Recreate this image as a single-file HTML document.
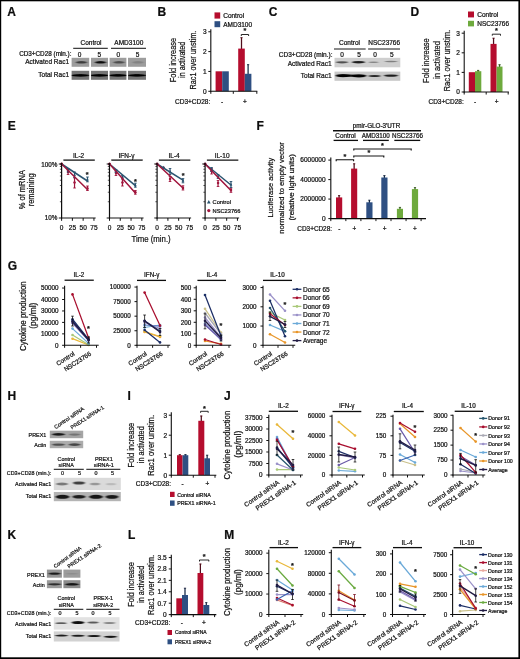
<!DOCTYPE html>
<html lang="en"><head><meta charset="utf-8"><title>Figure</title>
<style>html,body{margin:0;padding:0;background:#fff}svg{display:block}text{font-family:"Liberation Sans",sans-serif;fill:#111;stroke:#111;stroke-width:0.22px;stroke-linejoin:round}</style>
</head><body>
<svg width="520" height="659" viewBox="0 0 520 659">
<defs><filter id="b1" x="-30%" y="-80%" width="160%" height="260%"><feGaussianBlur stdDeviation="0.9 0.55"/></filter><filter id="b2" x="-30%" y="-80%" width="160%" height="260%"><feGaussianBlur stdDeviation="1.3 0.8"/></filter><filter id="soft" x="-2%" y="-2%" width="104%" height="104%"><feGaussianBlur stdDeviation="0.35"/></filter></defs>
<rect x="0.00" y="0.00" width="520.00" height="659.00" fill="#fff"/>
<g filter="url(#soft)">
<text transform="translate(7.30 11.30)" font-size="12" font-weight="bold" dy="4.30">A</text>
<text transform="translate(157.50 11.30)" font-size="12" font-weight="bold" dy="4.30">B</text>
<text transform="translate(268.80 11.30)" font-size="12" font-weight="bold" dy="4.30">C</text>
<text transform="translate(410.50 11.60)" font-size="12" font-weight="bold" dy="4.30">D</text>
<text transform="translate(7.80 126.10)" font-size="12" font-weight="bold" dy="4.30">E</text>
<text transform="translate(256.50 126.10)" font-size="12" font-weight="bold" dy="4.30">F</text>
<text transform="translate(7.80 266.10)" font-size="12" font-weight="bold" dy="4.30">G</text>
<text transform="translate(7.50 395.90)" font-size="12" font-weight="bold" dy="4.30">H</text>
<text transform="translate(127.50 395.90)" font-size="12" font-weight="bold" dy="4.30">I</text>
<text transform="translate(224.00 395.90)" font-size="12" font-weight="bold" dy="4.30">J</text>
<text transform="translate(7.50 534.60)" font-size="12" font-weight="bold" dy="4.30">K</text>
<text transform="translate(128.00 534.90)" font-size="12" font-weight="bold" dy="4.30">L</text>
<text transform="translate(224.30 534.60)" font-size="12" font-weight="bold" dy="4.30">M</text>
<text transform="translate(91.00 42.30)" font-size="6.5" text-anchor="middle" dy="2.33">Control</text>
<text transform="translate(128.80 42.30)" font-size="6.5" text-anchor="middle" dy="2.33">AMD3100</text>
<line x1="73.20" y1="48.30" x2="107.80" y2="48.30" stroke="#111" stroke-width="1"/>
<line x1="111.00" y1="48.30" x2="146.00" y2="48.30" stroke="#111" stroke-width="1"/>
<text transform="translate(71.50 54.20)" font-size="6.35" text-anchor="end" dy="2.27">CD3+CD28 (min.):</text>
<text transform="translate(79.60 54.20)" font-size="6.5" text-anchor="middle" dy="2.33">0</text>
<text transform="translate(99.30 54.20)" font-size="6.5" text-anchor="middle" dy="2.33">5</text>
<text transform="translate(118.20 54.20)" font-size="6.5" text-anchor="middle" dy="2.33">0</text>
<text transform="translate(137.60 54.20)" font-size="6.5" text-anchor="middle" dy="2.33">5</text>
<text transform="translate(69.00 61.70)" font-size="6.5" text-anchor="end" dy="2.33">Activated Rac1</text>
<text transform="translate(69.00 74.90)" font-size="6.5" text-anchor="end" dy="2.33">Total Rac1</text>
<clipPath id="cA0"><rect x="71.60" y="57.80" width="17.60" height="9.00"/></clipPath>
<rect x="71.60" y="57.80" width="17.60" height="9.00" fill="#9d9d9d"/>
<g clip-path="url(#cA0)">
<ellipse cx="81.40" cy="62.30" rx="5.75" ry="1.30" fill="#000" opacity="0.62" filter="url(#b1)"/>
</g>
<clipPath id="cAt0"><rect x="71.60" y="70.80" width="17.60" height="9.00"/></clipPath>
<rect x="71.60" y="70.80" width="17.60" height="9.00" fill="#757575"/>
<g clip-path="url(#cAt0)">
<ellipse cx="80.40" cy="75.40" rx="9.50" ry="1.30" fill="#000" opacity="0.95" filter="url(#b1)"/>
<ellipse cx="80.40" cy="75.40" rx="7.00" ry="0.70" fill="#000" opacity="0.8" filter="url(#b1)"/>
</g>
<clipPath id="cA1"><rect x="91.00" y="57.80" width="17.00" height="9.00"/></clipPath>
<rect x="91.00" y="57.80" width="17.00" height="9.00" fill="#9d9d9d"/>
<g clip-path="url(#cA1)">
<ellipse cx="100.50" cy="62.30" rx="5.75" ry="1.30" fill="#000" opacity="0.9" filter="url(#b1)"/>
</g>
<clipPath id="cAt1"><rect x="91.00" y="70.80" width="17.00" height="9.00"/></clipPath>
<rect x="91.00" y="70.80" width="17.00" height="9.00" fill="#757575"/>
<g clip-path="url(#cAt1)">
<ellipse cx="99.50" cy="75.40" rx="9.50" ry="1.30" fill="#000" opacity="0.95" filter="url(#b1)"/>
<ellipse cx="99.50" cy="75.40" rx="7.00" ry="0.70" fill="#000" opacity="0.8" filter="url(#b1)"/>
</g>
<clipPath id="cA2"><rect x="109.60" y="57.80" width="16.80" height="9.00"/></clipPath>
<rect x="109.60" y="57.80" width="16.80" height="9.00" fill="#9d9d9d"/>
<g clip-path="url(#cA2)">
<ellipse cx="119.00" cy="62.30" rx="5.75" ry="1.30" fill="#000" opacity="0.5" filter="url(#b1)"/>
</g>
<clipPath id="cAt2"><rect x="109.60" y="70.80" width="16.80" height="9.00"/></clipPath>
<rect x="109.60" y="70.80" width="16.80" height="9.00" fill="#757575"/>
<g clip-path="url(#cAt2)">
<ellipse cx="118.00" cy="75.40" rx="9.50" ry="1.30" fill="#000" opacity="0.95" filter="url(#b1)"/>
<ellipse cx="118.00" cy="75.40" rx="7.00" ry="0.70" fill="#000" opacity="0.8" filter="url(#b1)"/>
</g>
<clipPath id="cA3"><rect x="128.00" y="57.80" width="18.00" height="9.00"/></clipPath>
<rect x="128.00" y="57.80" width="18.00" height="9.00" fill="#9d9d9d"/>
<g clip-path="url(#cA3)">
<ellipse cx="138.00" cy="62.30" rx="5.75" ry="1.30" fill="#000" opacity="0.16" filter="url(#b1)"/>
</g>
<clipPath id="cAt3"><rect x="128.00" y="70.80" width="18.00" height="9.00"/></clipPath>
<rect x="128.00" y="70.80" width="18.00" height="9.00" fill="#757575"/>
<g clip-path="url(#cAt3)">
<ellipse cx="137.00" cy="75.40" rx="9.50" ry="1.30" fill="#000" opacity="0.95" filter="url(#b1)"/>
<ellipse cx="137.00" cy="75.40" rx="7.00" ry="0.70" fill="#000" opacity="0.8" filter="url(#b1)"/>
</g>
<rect x="215.60" y="71.30" width="6.60" height="20.00" fill="#b5112f"/>
<rect x="222.20" y="71.30" width="6.60" height="20.00" fill="#2d4f82"/>
<line x1="241.50" y1="37.50" x2="241.50" y2="49.60" stroke="#4f0c1a" stroke-width="1.25"/>
<line x1="240.40" y1="37.70" x2="242.60" y2="37.70" stroke="#4f0c1a" stroke-width="0.9"/>
<rect x="238.20" y="48.60" width="6.60" height="42.70" fill="#b5112f"/>
<line x1="248.10" y1="64.50" x2="248.10" y2="74.80" stroke="#172842" stroke-width="1.25"/>
<line x1="247.00" y1="64.70" x2="249.20" y2="64.70" stroke="#172842" stroke-width="0.9"/>
<rect x="244.80" y="73.80" width="6.60" height="17.50" fill="#2d4f82"/>
<line x1="210.80" y1="29.20" x2="210.80" y2="91.85" stroke="#111" stroke-width="1.1"/>
<line x1="208.30" y1="91.30" x2="210.80" y2="91.30" stroke="#111" stroke-width="0.99"/>
<text transform="translate(206.50 91.30)" font-size="6.5" text-anchor="end" dy="2.33">0</text>
<line x1="208.30" y1="71.45" x2="210.80" y2="71.45" stroke="#111" stroke-width="0.99"/>
<text transform="translate(206.50 71.45)" font-size="6.5" text-anchor="end" dy="2.33">1</text>
<line x1="208.30" y1="51.60" x2="210.80" y2="51.60" stroke="#111" stroke-width="0.99"/>
<text transform="translate(206.50 51.60)" font-size="6.5" text-anchor="end" dy="2.33">2</text>
<line x1="208.30" y1="31.75" x2="210.80" y2="31.75" stroke="#111" stroke-width="0.99"/>
<text transform="translate(206.50 31.75)" font-size="6.5" text-anchor="end" dy="2.33">3</text>
<line x1="210.25" y1="91.30" x2="257.30" y2="91.30" stroke="#111" stroke-width="1.1"/>
<line x1="210.80" y1="91.30" x2="210.80" y2="93.80" stroke="#111" stroke-width="0.99"/>
<line x1="233.30" y1="91.30" x2="233.30" y2="93.80" stroke="#111" stroke-width="0.99"/>
<line x1="256.80" y1="91.30" x2="256.80" y2="93.80" stroke="#111" stroke-width="0.99"/>
<text transform="translate(175.52 82.20) rotate(-90) scale(0.822 1)" font-size="9.00">Fold increase</text>
<text transform="translate(185.47 77.90) rotate(-90) scale(0.797 1)" font-size="9.00">in activated</text>
<text transform="translate(195.57 89.60) rotate(-90) scale(0.815 1)" font-size="9.00">Rac1 over unstim.</text>
<path d="M241.30 36.00 V34.50 H248.60 V36.00" fill="none" stroke="#111" stroke-width="0.9"/>
<text transform="translate(244.95 30.74)" font-size="7.2" text-anchor="middle" font-weight="bold" dy="2.58">*</text>
<text transform="translate(210.30 101.20)" font-size="6.5" text-anchor="end" dy="2.33">CD3+CD28:</text>
<text transform="translate(222.20 101.20)" font-size="6.5" text-anchor="middle" dy="2.33">-</text>
<text transform="translate(244.80 101.20)" font-size="6.5" text-anchor="middle" dy="2.33">+</text>
<rect x="214.50" y="12.40" width="5.70" height="6.20" fill="#b5112f"/>
<text transform="translate(223.20 15.60)" font-size="6.5" dy="2.33">Control</text>
<rect x="214.50" y="21.20" width="5.70" height="6.00" fill="#2d4f82"/>
<text transform="translate(223.20 24.30)" font-size="6.5" dy="2.33">AMD3100</text>
<text transform="translate(349.50 43.00)" font-size="6.5" text-anchor="middle" dy="2.33">Control</text>
<text transform="translate(384.20 43.00)" font-size="6.5" text-anchor="middle" dy="2.33">NSC23766</text>
<line x1="334.00" y1="49.00" x2="365.60" y2="49.00" stroke="#111" stroke-width="1"/>
<line x1="368.20" y1="49.00" x2="400.00" y2="49.00" stroke="#111" stroke-width="1"/>
<text transform="translate(332.50 55.00)" font-size="6.5" text-anchor="end" dy="2.33">CD3+CD28 (min.):</text>
<text transform="translate(342.00 55.00)" font-size="6.5" text-anchor="middle" dy="2.33">0</text>
<text transform="translate(359.00 55.00)" font-size="6.5" text-anchor="middle" dy="2.33">5</text>
<text transform="translate(375.00 55.00)" font-size="6.5" text-anchor="middle" dy="2.33">0</text>
<text transform="translate(391.80 55.00)" font-size="6.5" text-anchor="middle" dy="2.33">5</text>
<text transform="translate(331.50 63.50)" font-size="6.5" text-anchor="end" dy="2.33">Activated Rac1</text>
<text transform="translate(331.50 76.00)" font-size="6.5" text-anchor="end" dy="2.33">Total Rac1</text>
<clipPath id="cC1"><rect x="334.50" y="57.80" width="65.80" height="9.50"/></clipPath>
<rect x="334.50" y="57.80" width="65.80" height="9.50" fill="#cfcfcf"/>
<g clip-path="url(#cC1)">
<ellipse cx="342.00" cy="62.30" rx="6.00" ry="1.10" fill="#000" opacity="0.62" filter="url(#b1)"/>
<ellipse cx="358.50" cy="62.20" rx="6.50" ry="1.30" fill="#000" opacity="0.85" filter="url(#b1)"/>
<ellipse cx="373.50" cy="62.30" rx="5.00" ry="0.80" fill="#000" opacity="0.35" filter="url(#b1)"/>
<ellipse cx="391.00" cy="61.50" rx="6.50" ry="0.80" fill="#000" opacity="0.38" filter="url(#b1)"/>
</g>
<clipPath id="cC2"><rect x="334.50" y="71.60" width="65.80" height="9.20"/></clipPath>
<rect x="334.50" y="71.60" width="65.80" height="9.20" fill="#c8c8c8"/>
<g clip-path="url(#cC2)">
<ellipse cx="343.00" cy="75.60" rx="7.50" ry="1.70" fill="#000" opacity="0.98" filter="url(#b1)"/>
<ellipse cx="359.00" cy="75.80" rx="7.50" ry="1.60" fill="#000" opacity="0.98" filter="url(#b1)"/>
<ellipse cx="350.00" cy="75.70" rx="12.00" ry="1.10" fill="#000" opacity="0.9" filter="url(#b1)"/>
<ellipse cx="374.50" cy="76.00" rx="6.00" ry="1.00" fill="#000" opacity="0.8" filter="url(#b1)"/>
<ellipse cx="391.00" cy="75.60" rx="7.00" ry="1.10" fill="#000" opacity="0.85" filter="url(#b1)"/>
</g>
<rect x="468.80" y="72.20" width="6.20" height="19.80" fill="#b5112f"/>
<line x1="478.15" y1="70.20" x2="478.15" y2="72.20" stroke="#36591e" stroke-width="1.25"/>
<line x1="477.05" y1="70.40" x2="479.25" y2="70.40" stroke="#36591e" stroke-width="0.9"/>
<rect x="475.00" y="71.20" width="6.30" height="20.80" fill="#6eaa3c"/>
<line x1="493.55" y1="38.00" x2="493.55" y2="44.90" stroke="#4f0c1a" stroke-width="1.25"/>
<line x1="492.45" y1="38.20" x2="494.65" y2="38.20" stroke="#4f0c1a" stroke-width="0.9"/>
<rect x="490.50" y="43.90" width="6.10" height="48.10" fill="#b5112f"/>
<line x1="499.55" y1="64.50" x2="499.55" y2="67.60" stroke="#36591e" stroke-width="1.25"/>
<line x1="498.45" y1="64.70" x2="500.65" y2="64.70" stroke="#36591e" stroke-width="0.9"/>
<rect x="496.60" y="66.60" width="5.90" height="25.40" fill="#6eaa3c"/>
<line x1="464.20" y1="30.70" x2="464.20" y2="92.55" stroke="#111" stroke-width="1.1"/>
<line x1="461.70" y1="92.00" x2="464.20" y2="92.00" stroke="#111" stroke-width="0.99"/>
<text transform="translate(459.80 92.00)" font-size="6.5" text-anchor="end" dy="2.33">0</text>
<line x1="461.70" y1="72.40" x2="464.20" y2="72.40" stroke="#111" stroke-width="0.99"/>
<text transform="translate(459.80 72.40)" font-size="6.5" text-anchor="end" dy="2.33">1</text>
<line x1="461.70" y1="52.80" x2="464.20" y2="52.80" stroke="#111" stroke-width="0.99"/>
<text transform="translate(459.80 52.80)" font-size="6.5" text-anchor="end" dy="2.33">2</text>
<line x1="461.70" y1="33.20" x2="464.20" y2="33.20" stroke="#111" stroke-width="0.99"/>
<text transform="translate(459.80 33.20)" font-size="6.5" text-anchor="end" dy="2.33">3</text>
<line x1="463.65" y1="92.00" x2="508.80" y2="92.00" stroke="#111" stroke-width="1.1"/>
<line x1="464.20" y1="92.00" x2="464.20" y2="94.50" stroke="#111" stroke-width="0.99"/>
<line x1="486.20" y1="92.00" x2="486.20" y2="94.50" stroke="#111" stroke-width="0.99"/>
<line x1="508.20" y1="92.00" x2="508.20" y2="94.50" stroke="#111" stroke-width="0.99"/>
<text transform="translate(429.25 82.90) rotate(-90) scale(0.818 1)" font-size="9.10">Fold increase</text>
<text transform="translate(440.05 79.00) rotate(-90) scale(0.825 1)" font-size="9.10">in activated</text>
<text transform="translate(449.60 91.40) rotate(-90) scale(0.840 1)" font-size="9.10">Rac1 over unstim.</text>
<path d="M492.30 35.70 V34.20 H500.50 V35.70" fill="none" stroke="#111" stroke-width="0.9"/>
<text transform="translate(496.40 30.74)" font-size="7.2" text-anchor="middle" font-weight="bold" dy="2.58">*</text>
<text transform="translate(463.70 101.20)" font-size="6.5" text-anchor="end" dy="2.33">CD3+CD28:</text>
<text transform="translate(475.00 101.20)" font-size="6.5" text-anchor="middle" dy="2.33">-</text>
<text transform="translate(496.60 101.20)" font-size="6.5" text-anchor="middle" dy="2.33">+</text>
<rect x="468.00" y="11.50" width="6.00" height="5.90" fill="#b5112f"/>
<text transform="translate(477.30 14.60)" font-size="6.5" dy="2.33">Control</text>
<rect x="468.00" y="20.80" width="6.00" height="5.60" fill="#6eaa3c"/>
<text transform="translate(477.30 23.80)" font-size="6.5" dy="2.33">NSC23766</text>
<text transform="translate(25.08 209.20) rotate(-90) scale(0.843 1)" font-size="8.90">% of mRNA</text>
<text transform="translate(34.29 206.30) rotate(-90) scale(0.842 1)" font-size="8.90">remaining</text>
<text transform="translate(131.60 242.04) scale(0.877 1)" font-size="8.88">Time (min.)</text>
<text transform="translate(57.30 164.60)" font-size="6.3" text-anchor="end" dy="2.26">100%</text>
<text transform="translate(57.30 218.20)" font-size="6.3" text-anchor="end" dy="2.26">10%</text>
<text transform="translate(78.60 155.50)" font-size="6.5" text-anchor="middle" dy="2.33">IL-2</text>
<line x1="63.40" y1="160.10" x2="94.80" y2="160.10" stroke="#111" stroke-width="1.3"/>
<line x1="68.07" y1="170.00" x2="68.07" y2="174.50" stroke="#a0143c" stroke-width="1.2"/>
<line x1="66.77" y1="170.00" x2="69.37" y2="170.00" stroke="#a0143c" stroke-width="0.9"/>
<line x1="66.77" y1="174.50" x2="69.37" y2="174.50" stroke="#a0143c" stroke-width="0.9"/>
<circle cx="68.07" cy="172.00" r="1.25" fill="#a0143c"/>
<line x1="68.07" y1="168.50" x2="68.07" y2="172.00" stroke="#2b5470" stroke-width="1.2"/>
<line x1="66.77" y1="168.50" x2="69.37" y2="168.50" stroke="#2b5470" stroke-width="0.9"/>
<line x1="66.77" y1="172.00" x2="69.37" y2="172.00" stroke="#2b5470" stroke-width="0.9"/>
<path d="M68.07 168.50 L69.44 171.12 L66.69 171.12 Z" fill="#2b5470"/>
<line x1="74.54" y1="177.70" x2="74.54" y2="188.00" stroke="#a0143c" stroke-width="1.2"/>
<line x1="73.24" y1="177.70" x2="75.84" y2="177.70" stroke="#a0143c" stroke-width="0.9"/>
<line x1="73.24" y1="188.00" x2="75.84" y2="188.00" stroke="#a0143c" stroke-width="0.9"/>
<circle cx="74.54" cy="182.50" r="1.25" fill="#a0143c"/>
<line x1="74.54" y1="172.00" x2="74.54" y2="177.70" stroke="#2b5470" stroke-width="1.2"/>
<line x1="73.24" y1="172.00" x2="75.84" y2="172.00" stroke="#2b5470" stroke-width="0.9"/>
<line x1="73.24" y1="177.70" x2="75.84" y2="177.70" stroke="#2b5470" stroke-width="0.9"/>
<path d="M74.54 173.50 L75.91 176.12 L73.16 176.12 Z" fill="#2b5470"/>
<line x1="87.47" y1="186.00" x2="87.47" y2="190.50" stroke="#a0143c" stroke-width="1.2"/>
<line x1="86.17" y1="186.00" x2="88.77" y2="186.00" stroke="#a0143c" stroke-width="0.9"/>
<line x1="86.17" y1="190.50" x2="88.77" y2="190.50" stroke="#a0143c" stroke-width="0.9"/>
<circle cx="87.47" cy="188.50" r="1.25" fill="#a0143c"/>
<line x1="87.47" y1="177.00" x2="87.47" y2="181.80" stroke="#2b5470" stroke-width="1.2"/>
<line x1="86.17" y1="177.00" x2="88.77" y2="177.00" stroke="#2b5470" stroke-width="0.9"/>
<line x1="86.17" y1="181.80" x2="88.77" y2="181.80" stroke="#2b5470" stroke-width="0.9"/>
<path d="M87.47 178.00 L88.85 180.62 L86.10 180.62 Z" fill="#2b5470"/>
<line x1="61.60" y1="164.00" x2="87.47" y2="181.00" stroke="#2b5470" stroke-width="1.5" stroke-linecap="round"/>
<line x1="61.60" y1="164.00" x2="87.47" y2="189.50" stroke="#a0143c" stroke-width="1.5" stroke-linecap="round"/>
<circle cx="61.60" cy="164.00" r="1.50" fill="#a0143c"/>
<line x1="61.60" y1="162.80" x2="61.60" y2="218.60" stroke="#111" stroke-width="1.2"/>
<line x1="58.80" y1="164.00" x2="61.60" y2="164.00" stroke="#111" stroke-width="1"/>
<line x1="58.80" y1="218.00" x2="61.60" y2="218.00" stroke="#111" stroke-width="1"/>
<line x1="59.90" y1="201.74" x2="61.60" y2="201.74" stroke="#111" stroke-width="0.7"/>
<line x1="59.90" y1="192.24" x2="61.60" y2="192.24" stroke="#111" stroke-width="0.7"/>
<line x1="59.90" y1="185.49" x2="61.60" y2="185.49" stroke="#111" stroke-width="0.7"/>
<line x1="59.90" y1="180.26" x2="61.60" y2="180.26" stroke="#111" stroke-width="0.7"/>
<line x1="59.90" y1="175.98" x2="61.60" y2="175.98" stroke="#111" stroke-width="0.7"/>
<line x1="59.90" y1="172.36" x2="61.60" y2="172.36" stroke="#111" stroke-width="0.7"/>
<line x1="59.90" y1="169.23" x2="61.60" y2="169.23" stroke="#111" stroke-width="0.7"/>
<line x1="59.90" y1="166.47" x2="61.60" y2="166.47" stroke="#111" stroke-width="0.7"/>
<line x1="61.00" y1="218.00" x2="95.60" y2="218.00" stroke="#111" stroke-width="1.2"/>
<line x1="61.60" y1="218.00" x2="61.60" y2="220.80" stroke="#111" stroke-width="1"/>
<text transform="translate(61.60 227.80)" font-size="6.5" text-anchor="middle" dy="2.33">0</text>
<line x1="72.38" y1="218.00" x2="72.38" y2="220.80" stroke="#111" stroke-width="1"/>
<text transform="translate(72.38 227.80)" font-size="6.5" text-anchor="middle" dy="2.33">25</text>
<line x1="83.16" y1="218.00" x2="83.16" y2="220.80" stroke="#111" stroke-width="1"/>
<text transform="translate(83.16 227.80)" font-size="6.5" text-anchor="middle" dy="2.33">50</text>
<line x1="93.94" y1="218.00" x2="93.94" y2="220.80" stroke="#111" stroke-width="1"/>
<text transform="translate(93.94 227.80)" font-size="6.5" text-anchor="middle" dy="2.33">75</text>
<text transform="translate(87.20 174.04)" font-size="7.2" text-anchor="middle" font-weight="bold" dy="2.58">*</text>
<text transform="translate(126.50 155.50)" font-size="6.5" text-anchor="middle" dy="2.33">IFN-γ</text>
<line x1="111.30" y1="160.10" x2="142.70" y2="160.10" stroke="#111" stroke-width="1.3"/>
<line x1="115.97" y1="171.00" x2="115.97" y2="175.50" stroke="#a0143c" stroke-width="1.2"/>
<line x1="114.67" y1="171.00" x2="117.27" y2="171.00" stroke="#a0143c" stroke-width="0.9"/>
<line x1="114.67" y1="175.50" x2="117.27" y2="175.50" stroke="#a0143c" stroke-width="0.9"/>
<circle cx="115.97" cy="173.00" r="1.25" fill="#a0143c"/>
<line x1="115.97" y1="169.50" x2="115.97" y2="172.50" stroke="#2b5470" stroke-width="1.2"/>
<line x1="114.67" y1="169.50" x2="117.27" y2="169.50" stroke="#2b5470" stroke-width="0.9"/>
<line x1="114.67" y1="172.50" x2="117.27" y2="172.50" stroke="#2b5470" stroke-width="0.9"/>
<path d="M115.97 169.50 L117.34 172.12 L114.59 172.12 Z" fill="#2b5470"/>
<line x1="122.44" y1="179.00" x2="122.44" y2="186.00" stroke="#a0143c" stroke-width="1.2"/>
<line x1="121.14" y1="179.00" x2="123.74" y2="179.00" stroke="#a0143c" stroke-width="0.9"/>
<line x1="121.14" y1="186.00" x2="123.74" y2="186.00" stroke="#a0143c" stroke-width="0.9"/>
<circle cx="122.44" cy="182.50" r="1.25" fill="#a0143c"/>
<line x1="122.44" y1="175.50" x2="122.44" y2="178.80" stroke="#2b5470" stroke-width="1.2"/>
<line x1="121.14" y1="175.50" x2="123.74" y2="175.50" stroke="#2b5470" stroke-width="0.9"/>
<line x1="121.14" y1="178.80" x2="123.74" y2="178.80" stroke="#2b5470" stroke-width="0.9"/>
<path d="M122.44 175.50 L123.81 178.12 L121.06 178.12 Z" fill="#2b5470"/>
<line x1="135.37" y1="190.50" x2="135.37" y2="194.20" stroke="#a0143c" stroke-width="1.2"/>
<line x1="134.07" y1="190.50" x2="136.67" y2="190.50" stroke="#a0143c" stroke-width="0.9"/>
<line x1="134.07" y1="194.20" x2="136.67" y2="194.20" stroke="#a0143c" stroke-width="0.9"/>
<circle cx="135.37" cy="192.30" r="1.25" fill="#a0143c"/>
<line x1="135.37" y1="183.20" x2="135.37" y2="187.20" stroke="#2b5470" stroke-width="1.2"/>
<line x1="134.07" y1="183.20" x2="136.67" y2="183.20" stroke="#2b5470" stroke-width="0.9"/>
<line x1="134.07" y1="187.20" x2="136.67" y2="187.20" stroke="#2b5470" stroke-width="0.9"/>
<path d="M135.37 183.70 L136.75 186.32 L134.00 186.32 Z" fill="#2b5470"/>
<line x1="109.50" y1="164.00" x2="135.37" y2="185.60" stroke="#2b5470" stroke-width="1.5" stroke-linecap="round"/>
<line x1="109.50" y1="164.00" x2="135.37" y2="193.00" stroke="#a0143c" stroke-width="1.5" stroke-linecap="round"/>
<circle cx="109.50" cy="164.00" r="1.50" fill="#a0143c"/>
<line x1="109.50" y1="162.80" x2="109.50" y2="218.60" stroke="#111" stroke-width="1.2"/>
<line x1="106.70" y1="164.00" x2="109.50" y2="164.00" stroke="#111" stroke-width="1"/>
<line x1="106.70" y1="218.00" x2="109.50" y2="218.00" stroke="#111" stroke-width="1"/>
<line x1="107.80" y1="201.74" x2="109.50" y2="201.74" stroke="#111" stroke-width="0.7"/>
<line x1="107.80" y1="192.24" x2="109.50" y2="192.24" stroke="#111" stroke-width="0.7"/>
<line x1="107.80" y1="185.49" x2="109.50" y2="185.49" stroke="#111" stroke-width="0.7"/>
<line x1="107.80" y1="180.26" x2="109.50" y2="180.26" stroke="#111" stroke-width="0.7"/>
<line x1="107.80" y1="175.98" x2="109.50" y2="175.98" stroke="#111" stroke-width="0.7"/>
<line x1="107.80" y1="172.36" x2="109.50" y2="172.36" stroke="#111" stroke-width="0.7"/>
<line x1="107.80" y1="169.23" x2="109.50" y2="169.23" stroke="#111" stroke-width="0.7"/>
<line x1="107.80" y1="166.47" x2="109.50" y2="166.47" stroke="#111" stroke-width="0.7"/>
<line x1="108.90" y1="218.00" x2="143.50" y2="218.00" stroke="#111" stroke-width="1.2"/>
<line x1="109.50" y1="218.00" x2="109.50" y2="220.80" stroke="#111" stroke-width="1"/>
<text transform="translate(109.50 227.80)" font-size="6.5" text-anchor="middle" dy="2.33">0</text>
<line x1="120.28" y1="218.00" x2="120.28" y2="220.80" stroke="#111" stroke-width="1"/>
<text transform="translate(120.28 227.80)" font-size="6.5" text-anchor="middle" dy="2.33">25</text>
<line x1="131.06" y1="218.00" x2="131.06" y2="220.80" stroke="#111" stroke-width="1"/>
<text transform="translate(131.06 227.80)" font-size="6.5" text-anchor="middle" dy="2.33">50</text>
<line x1="141.84" y1="218.00" x2="141.84" y2="220.80" stroke="#111" stroke-width="1"/>
<text transform="translate(141.84 227.80)" font-size="6.5" text-anchor="middle" dy="2.33">75</text>
<text transform="translate(135.50 180.94)" font-size="7.2" text-anchor="middle" font-weight="bold" dy="2.58">*</text>
<text transform="translate(174.10 155.50)" font-size="6.5" text-anchor="middle" dy="2.33">IL-4</text>
<line x1="158.90" y1="160.10" x2="190.30" y2="160.10" stroke="#111" stroke-width="1.3"/>
<circle cx="163.57" cy="167.80" r="1.25" fill="#a0143c"/>
<path d="M163.57 165.70 L164.94 168.32 L162.19 168.32 Z" fill="#2b5470"/>
<line x1="170.04" y1="176.50" x2="170.04" y2="181.50" stroke="#a0143c" stroke-width="1.2"/>
<line x1="168.74" y1="176.50" x2="171.34" y2="176.50" stroke="#a0143c" stroke-width="0.9"/>
<line x1="168.74" y1="181.50" x2="171.34" y2="181.50" stroke="#a0143c" stroke-width="0.9"/>
<circle cx="170.04" cy="179.00" r="1.25" fill="#a0143c"/>
<line x1="170.04" y1="168.50" x2="170.04" y2="174.50" stroke="#2b5470" stroke-width="1.2"/>
<line x1="168.74" y1="168.50" x2="171.34" y2="168.50" stroke="#2b5470" stroke-width="0.9"/>
<line x1="168.74" y1="174.50" x2="171.34" y2="174.50" stroke="#2b5470" stroke-width="0.9"/>
<path d="M170.04 170.00 L171.41 172.62 L168.66 172.62 Z" fill="#2b5470"/>
<line x1="182.97" y1="185.80" x2="182.97" y2="190.00" stroke="#a0143c" stroke-width="1.2"/>
<line x1="181.67" y1="185.80" x2="184.27" y2="185.80" stroke="#a0143c" stroke-width="0.9"/>
<line x1="181.67" y1="190.00" x2="184.27" y2="190.00" stroke="#a0143c" stroke-width="0.9"/>
<circle cx="182.97" cy="188.00" r="1.25" fill="#a0143c"/>
<line x1="182.97" y1="178.60" x2="182.97" y2="182.80" stroke="#2b5470" stroke-width="1.2"/>
<line x1="181.67" y1="178.60" x2="184.27" y2="178.60" stroke="#2b5470" stroke-width="0.9"/>
<line x1="181.67" y1="182.80" x2="184.27" y2="182.80" stroke="#2b5470" stroke-width="0.9"/>
<path d="M182.97 179.10 L184.35 181.72 L181.60 181.72 Z" fill="#2b5470"/>
<line x1="157.10" y1="164.00" x2="182.97" y2="180.20" stroke="#2b5470" stroke-width="1.5" stroke-linecap="round"/>
<line x1="157.10" y1="164.00" x2="182.97" y2="188.00" stroke="#a0143c" stroke-width="1.5" stroke-linecap="round"/>
<circle cx="157.10" cy="164.00" r="1.50" fill="#a0143c"/>
<line x1="157.10" y1="162.80" x2="157.10" y2="218.60" stroke="#111" stroke-width="1.2"/>
<line x1="154.30" y1="164.00" x2="157.10" y2="164.00" stroke="#111" stroke-width="1"/>
<line x1="154.30" y1="218.00" x2="157.10" y2="218.00" stroke="#111" stroke-width="1"/>
<line x1="155.40" y1="201.74" x2="157.10" y2="201.74" stroke="#111" stroke-width="0.7"/>
<line x1="155.40" y1="192.24" x2="157.10" y2="192.24" stroke="#111" stroke-width="0.7"/>
<line x1="155.40" y1="185.49" x2="157.10" y2="185.49" stroke="#111" stroke-width="0.7"/>
<line x1="155.40" y1="180.26" x2="157.10" y2="180.26" stroke="#111" stroke-width="0.7"/>
<line x1="155.40" y1="175.98" x2="157.10" y2="175.98" stroke="#111" stroke-width="0.7"/>
<line x1="155.40" y1="172.36" x2="157.10" y2="172.36" stroke="#111" stroke-width="0.7"/>
<line x1="155.40" y1="169.23" x2="157.10" y2="169.23" stroke="#111" stroke-width="0.7"/>
<line x1="155.40" y1="166.47" x2="157.10" y2="166.47" stroke="#111" stroke-width="0.7"/>
<line x1="156.50" y1="218.00" x2="191.10" y2="218.00" stroke="#111" stroke-width="1.2"/>
<line x1="157.10" y1="218.00" x2="157.10" y2="220.80" stroke="#111" stroke-width="1"/>
<text transform="translate(157.10 227.80)" font-size="6.5" text-anchor="middle" dy="2.33">0</text>
<line x1="167.88" y1="218.00" x2="167.88" y2="220.80" stroke="#111" stroke-width="1"/>
<text transform="translate(167.88 227.80)" font-size="6.5" text-anchor="middle" dy="2.33">25</text>
<line x1="178.66" y1="218.00" x2="178.66" y2="220.80" stroke="#111" stroke-width="1"/>
<text transform="translate(178.66 227.80)" font-size="6.5" text-anchor="middle" dy="2.33">50</text>
<line x1="189.44" y1="218.00" x2="189.44" y2="220.80" stroke="#111" stroke-width="1"/>
<text transform="translate(189.44 227.80)" font-size="6.5" text-anchor="middle" dy="2.33">75</text>
<text transform="translate(183.10 175.44)" font-size="7.2" text-anchor="middle" font-weight="bold" dy="2.58">*</text>
<text transform="translate(222.10 155.50)" font-size="6.5" text-anchor="middle" dy="2.33">IL-10</text>
<line x1="206.90" y1="160.10" x2="238.30" y2="160.10" stroke="#111" stroke-width="1.3"/>
<line x1="211.57" y1="168.50" x2="211.57" y2="174.00" stroke="#a0143c" stroke-width="1.2"/>
<line x1="210.27" y1="168.50" x2="212.87" y2="168.50" stroke="#a0143c" stroke-width="0.9"/>
<line x1="210.27" y1="174.00" x2="212.87" y2="174.00" stroke="#a0143c" stroke-width="0.9"/>
<circle cx="211.57" cy="171.00" r="1.25" fill="#a0143c"/>
<line x1="211.57" y1="167.50" x2="211.57" y2="171.50" stroke="#2b5470" stroke-width="1.2"/>
<line x1="210.27" y1="167.50" x2="212.87" y2="167.50" stroke="#2b5470" stroke-width="0.9"/>
<line x1="210.27" y1="171.50" x2="212.87" y2="171.50" stroke="#2b5470" stroke-width="0.9"/>
<path d="M211.57 168.00 L212.94 170.62 L210.19 170.62 Z" fill="#2b5470"/>
<line x1="218.04" y1="180.50" x2="218.04" y2="186.50" stroke="#a0143c" stroke-width="1.2"/>
<line x1="216.74" y1="180.50" x2="219.34" y2="180.50" stroke="#a0143c" stroke-width="0.9"/>
<line x1="216.74" y1="186.50" x2="219.34" y2="186.50" stroke="#a0143c" stroke-width="0.9"/>
<circle cx="218.04" cy="183.00" r="1.25" fill="#a0143c"/>
<line x1="218.04" y1="174.50" x2="218.04" y2="178.50" stroke="#2b5470" stroke-width="1.2"/>
<line x1="216.74" y1="174.50" x2="219.34" y2="174.50" stroke="#2b5470" stroke-width="0.9"/>
<line x1="216.74" y1="178.50" x2="219.34" y2="178.50" stroke="#2b5470" stroke-width="0.9"/>
<path d="M218.04 175.00 L219.41 177.62 L216.66 177.62 Z" fill="#2b5470"/>
<line x1="230.97" y1="188.00" x2="230.97" y2="192.30" stroke="#a0143c" stroke-width="1.2"/>
<line x1="229.67" y1="188.00" x2="232.27" y2="188.00" stroke="#a0143c" stroke-width="0.9"/>
<line x1="229.67" y1="192.30" x2="232.27" y2="192.30" stroke="#a0143c" stroke-width="0.9"/>
<circle cx="230.97" cy="190.00" r="1.25" fill="#a0143c"/>
<line x1="230.97" y1="181.50" x2="230.97" y2="187.50" stroke="#2b5470" stroke-width="1.2"/>
<line x1="229.67" y1="181.50" x2="232.27" y2="181.50" stroke="#2b5470" stroke-width="0.9"/>
<line x1="229.67" y1="187.50" x2="232.27" y2="187.50" stroke="#2b5470" stroke-width="0.9"/>
<path d="M230.97 183.00 L232.35 185.62 L229.60 185.62 Z" fill="#2b5470"/>
<line x1="205.10" y1="164.00" x2="230.97" y2="185.00" stroke="#2b5470" stroke-width="1.5" stroke-linecap="round"/>
<line x1="205.10" y1="164.00" x2="230.97" y2="190.60" stroke="#a0143c" stroke-width="1.5" stroke-linecap="round"/>
<circle cx="205.10" cy="164.00" r="1.50" fill="#a0143c"/>
<line x1="205.10" y1="162.80" x2="205.10" y2="218.60" stroke="#111" stroke-width="1.2"/>
<line x1="202.30" y1="164.00" x2="205.10" y2="164.00" stroke="#111" stroke-width="1"/>
<line x1="202.30" y1="218.00" x2="205.10" y2="218.00" stroke="#111" stroke-width="1"/>
<line x1="203.40" y1="201.74" x2="205.10" y2="201.74" stroke="#111" stroke-width="0.7"/>
<line x1="203.40" y1="192.24" x2="205.10" y2="192.24" stroke="#111" stroke-width="0.7"/>
<line x1="203.40" y1="185.49" x2="205.10" y2="185.49" stroke="#111" stroke-width="0.7"/>
<line x1="203.40" y1="180.26" x2="205.10" y2="180.26" stroke="#111" stroke-width="0.7"/>
<line x1="203.40" y1="175.98" x2="205.10" y2="175.98" stroke="#111" stroke-width="0.7"/>
<line x1="203.40" y1="172.36" x2="205.10" y2="172.36" stroke="#111" stroke-width="0.7"/>
<line x1="203.40" y1="169.23" x2="205.10" y2="169.23" stroke="#111" stroke-width="0.7"/>
<line x1="203.40" y1="166.47" x2="205.10" y2="166.47" stroke="#111" stroke-width="0.7"/>
<line x1="204.50" y1="218.00" x2="239.10" y2="218.00" stroke="#111" stroke-width="1.2"/>
<line x1="205.10" y1="218.00" x2="205.10" y2="220.80" stroke="#111" stroke-width="1"/>
<text transform="translate(205.10 227.80)" font-size="6.5" text-anchor="middle" dy="2.33">0</text>
<line x1="215.88" y1="218.00" x2="215.88" y2="220.80" stroke="#111" stroke-width="1"/>
<text transform="translate(215.88 227.80)" font-size="6.5" text-anchor="middle" dy="2.33">25</text>
<line x1="226.66" y1="218.00" x2="226.66" y2="220.80" stroke="#111" stroke-width="1"/>
<text transform="translate(226.66 227.80)" font-size="6.5" text-anchor="middle" dy="2.33">50</text>
<line x1="237.44" y1="218.00" x2="237.44" y2="220.80" stroke="#111" stroke-width="1"/>
<text transform="translate(237.44 227.80)" font-size="6.5" text-anchor="middle" dy="2.33">75</text>
<path d="M208.80 199.96 L210.67 203.53 L206.93 203.53 Z" fill="#2b5470"/>
<text transform="translate(212.60 202.20)" font-size="5.7" dy="2.04">Control</text>
<circle cx="208.80" cy="210.60" r="1.60" fill="#a0143c"/>
<text transform="translate(212.60 210.80)" font-size="5.7" dy="2.04">NSC23766</text>
<text transform="translate(376.50 126.00)" font-size="6.3" text-anchor="middle" dy="2.26">pmir-GLO-3'UTR</text>
<line x1="333.00" y1="130.70" x2="421.00" y2="130.70" stroke="#111" stroke-width="1.4"/>
<text transform="translate(345.50 135.90)" font-size="6.3" text-anchor="middle" dy="2.26">Control</text>
<text transform="translate(375.80 135.90)" font-size="6.3" text-anchor="middle" dy="2.26">AMD3100</text>
<text transform="translate(407.50 135.90)" font-size="6.3" text-anchor="middle" dy="2.26">NSC23766</text>
<line x1="333.60" y1="140.40" x2="358.00" y2="140.40" stroke="#111" stroke-width="1.3"/>
<line x1="363.00" y1="140.40" x2="388.80" y2="140.40" stroke="#111" stroke-width="1.3"/>
<line x1="394.30" y1="140.40" x2="420.20" y2="140.40" stroke="#111" stroke-width="1.3"/>
<line x1="339.10" y1="195.40" x2="339.10" y2="198.40" stroke="#4f0c1a" stroke-width="1.25"/>
<line x1="338.00" y1="195.60" x2="340.20" y2="195.60" stroke="#4f0c1a" stroke-width="0.9"/>
<rect x="336.00" y="197.40" width="6.20" height="21.20" fill="#b5112f"/>
<line x1="354.15" y1="163.60" x2="354.15" y2="169.60" stroke="#4f0c1a" stroke-width="1.25"/>
<line x1="353.05" y1="163.80" x2="355.25" y2="163.80" stroke="#4f0c1a" stroke-width="0.9"/>
<rect x="351.10" y="168.60" width="6.10" height="50.00" fill="#b5112f"/>
<line x1="369.40" y1="200.00" x2="369.40" y2="203.30" stroke="#172842" stroke-width="1.25"/>
<line x1="368.30" y1="200.20" x2="370.50" y2="200.20" stroke="#172842" stroke-width="0.9"/>
<rect x="366.30" y="202.30" width="6.20" height="16.30" fill="#2d4f82"/>
<line x1="384.40" y1="175.40" x2="384.40" y2="178.50" stroke="#172842" stroke-width="1.25"/>
<line x1="383.30" y1="175.60" x2="385.50" y2="175.60" stroke="#172842" stroke-width="0.9"/>
<rect x="381.30" y="177.50" width="6.20" height="41.10" fill="#2d4f82"/>
<line x1="399.95" y1="207.20" x2="399.95" y2="209.80" stroke="#36591e" stroke-width="1.25"/>
<line x1="398.85" y1="207.40" x2="401.05" y2="207.40" stroke="#36591e" stroke-width="0.9"/>
<rect x="396.90" y="208.80" width="6.10" height="9.80" fill="#6eaa3c"/>
<line x1="415.00" y1="187.40" x2="415.00" y2="190.10" stroke="#36591e" stroke-width="1.25"/>
<line x1="413.90" y1="187.60" x2="416.10" y2="187.60" stroke="#36591e" stroke-width="0.9"/>
<rect x="411.90" y="189.10" width="6.20" height="29.50" fill="#6eaa3c"/>
<line x1="330.80" y1="157.60" x2="330.80" y2="219.15" stroke="#111" stroke-width="1.1"/>
<line x1="328.30" y1="218.60" x2="330.80" y2="218.60" stroke="#111" stroke-width="0.99"/>
<text transform="translate(325.60 218.60)" font-size="6.5" text-anchor="end" dy="2.33">0</text>
<line x1="328.30" y1="199.10" x2="330.80" y2="199.10" stroke="#111" stroke-width="0.99"/>
<text transform="translate(325.60 199.10)" font-size="6.5" text-anchor="end" dy="2.33">2000000</text>
<line x1="328.30" y1="179.60" x2="330.80" y2="179.60" stroke="#111" stroke-width="0.99"/>
<text transform="translate(325.60 179.60)" font-size="6.5" text-anchor="end" dy="2.33">4000000</text>
<line x1="328.30" y1="160.10" x2="330.80" y2="160.10" stroke="#111" stroke-width="0.99"/>
<text transform="translate(325.60 160.10)" font-size="6.5" text-anchor="end" dy="2.33">6000000</text>
<line x1="330.25" y1="218.60" x2="426.00" y2="218.60" stroke="#111" stroke-width="1.1"/>
<line x1="330.80" y1="218.60" x2="330.80" y2="221.10" stroke="#111" stroke-width="0.99"/>
<line x1="345.85" y1="218.60" x2="345.85" y2="221.10" stroke="#111" stroke-width="0.99"/>
<line x1="360.90" y1="218.60" x2="360.90" y2="221.10" stroke="#111" stroke-width="0.99"/>
<line x1="375.95" y1="218.60" x2="375.95" y2="221.10" stroke="#111" stroke-width="0.99"/>
<line x1="391.00" y1="218.60" x2="391.00" y2="221.10" stroke="#111" stroke-width="0.99"/>
<line x1="406.05" y1="218.60" x2="406.05" y2="221.10" stroke="#111" stroke-width="0.99"/>
<line x1="421.10" y1="218.60" x2="421.10" y2="221.10" stroke="#111" stroke-width="0.99"/>
<path d="M336.20 161.30 V159.80 H353.60 V161.30" fill="none" stroke="#111" stroke-width="1.1"/>
<text transform="translate(345.00 156.64)" font-size="7.2" text-anchor="middle" font-weight="bold" dy="2.58">*</text>
<path d="M353.80 157.50 V156.00 H383.80 V157.50" fill="none" stroke="#111" stroke-width="1.1"/>
<text transform="translate(368.80 152.64)" font-size="7.2" text-anchor="middle" font-weight="bold" dy="2.58">*</text>
<path d="M353.80 150.50 V149.00 H411.20 V150.50" fill="none" stroke="#111" stroke-width="1.1"/>
<text transform="translate(382.50 145.64)" font-size="7.2" text-anchor="middle" font-weight="bold" dy="2.58">*</text>
<text transform="translate(273.38 217.60) rotate(-90) scale(0.977 1)" font-size="7.70">Luciferase activity</text>
<text transform="translate(283.93 233.80) rotate(-90) scale(0.993 1)" font-size="7.70">normalized to empty vector</text>
<text transform="translate(294.33 220.60) rotate(-90) scale(1.029 1)" font-size="7.70">(relative light units)</text>
<text transform="translate(332.00 228.40)" font-size="6.4" text-anchor="end" dy="2.29">CD3+CD28:</text>
<text transform="translate(339.20 228.40)" font-size="6.4" text-anchor="middle" dy="2.29">-</text>
<text transform="translate(354.30 228.40)" font-size="6.4" text-anchor="middle" dy="2.29">+</text>
<text transform="translate(369.40 228.40)" font-size="6.4" text-anchor="middle" dy="2.29">-</text>
<text transform="translate(384.50 228.40)" font-size="6.4" text-anchor="middle" dy="2.29">+</text>
<text transform="translate(399.80 228.40)" font-size="6.4" text-anchor="middle" dy="2.29">-</text>
<text transform="translate(414.80 228.40)" font-size="6.4" text-anchor="middle" dy="2.29">+</text>
<text transform="translate(25.78 350.90) rotate(-90) scale(0.934 1)" font-size="8.45">Cytokine production</text>
<text transform="translate(36.23 328.70) rotate(-90) scale(0.993 1)" font-size="8.45">(pg/ml)</text>
<text transform="translate(78.80 275.00)" font-size="6.3" text-anchor="middle" dy="2.26">IL-2</text>
<line x1="64.60" y1="280.20" x2="93.80" y2="280.20" stroke="#111" stroke-width="1.3"/>
<line x1="72.50" y1="338.70" x2="88.60" y2="345.00" stroke="#e9b83a" stroke-width="1.25" stroke-linecap="round"/>
<circle cx="72.50" cy="338.70" r="1.30" fill="#e9b83a"/>
<circle cx="88.60" cy="345.00" r="1.30" fill="#e9b83a"/>
<line x1="72.50" y1="335.00" x2="88.60" y2="344.80" stroke="#a9c878" stroke-width="1.25" stroke-linecap="round"/>
<circle cx="72.50" cy="335.00" r="1.30" fill="#a9c878"/>
<circle cx="88.60" cy="344.80" r="1.30" fill="#a9c878"/>
<line x1="72.50" y1="328.60" x2="88.60" y2="343.40" stroke="#6aa9d8" stroke-width="1.25" stroke-linecap="round"/>
<circle cx="72.50" cy="328.60" r="1.30" fill="#6aa9d8"/>
<circle cx="88.60" cy="343.40" r="1.30" fill="#6aa9d8"/>
<line x1="72.50" y1="294.40" x2="88.60" y2="338.00" stroke="#a8102e" stroke-width="1.25" stroke-linecap="round"/>
<circle cx="72.50" cy="294.40" r="1.30" fill="#a8102e"/>
<circle cx="88.60" cy="338.00" r="1.30" fill="#a8102e"/>
<line x1="72.50" y1="323.00" x2="88.60" y2="340.50" stroke="#6a5aa8" stroke-width="1.25" stroke-linecap="round"/>
<circle cx="72.50" cy="323.00" r="1.30" fill="#6a5aa8"/>
<circle cx="88.60" cy="340.50" r="1.30" fill="#6a5aa8"/>
<line x1="72.50" y1="320.50" x2="88.60" y2="339.80" stroke="#3c63b0" stroke-width="1.25" stroke-linecap="round"/>
<circle cx="72.50" cy="320.50" r="1.30" fill="#3c63b0"/>
<circle cx="88.60" cy="339.80" r="1.30" fill="#3c63b0"/>
<line x1="72.50" y1="319.20" x2="88.60" y2="339.30" stroke="#1d2f66" stroke-width="1.25" stroke-linecap="round"/>
<circle cx="72.50" cy="319.20" r="1.30" fill="#1d2f66"/>
<circle cx="88.60" cy="339.30" r="1.30" fill="#1d2f66"/>
<line x1="72.50" y1="316.20" x2="72.50" y2="326.00" stroke="#111" stroke-width="0.8"/>
<line x1="71.20" y1="316.20" x2="73.80" y2="316.20" stroke="#111" stroke-width="0.8"/>
<line x1="71.20" y1="326.00" x2="73.80" y2="326.00" stroke="#111" stroke-width="0.8"/>
<line x1="88.60" y1="336.80" x2="88.60" y2="343.00" stroke="#111" stroke-width="0.8"/>
<line x1="87.30" y1="336.80" x2="89.90" y2="336.80" stroke="#111" stroke-width="0.8"/>
<line x1="87.30" y1="343.00" x2="89.90" y2="343.00" stroke="#111" stroke-width="0.8"/>
<line x1="72.50" y1="321.50" x2="88.60" y2="340.00" stroke="#221c44" stroke-width="1.4" stroke-linecap="round"/>
<circle cx="72.50" cy="321.50" r="1.30" fill="#221c44"/>
<circle cx="88.60" cy="340.00" r="1.30" fill="#221c44"/>
<line x1="64.60" y1="285.80" x2="64.60" y2="345.85" stroke="#111" stroke-width="1.1"/>
<line x1="62.10" y1="345.30" x2="64.60" y2="345.30" stroke="#111" stroke-width="0.99"/>
<text transform="translate(58.50 345.30)" font-size="6.3" text-anchor="end" dy="2.26">0</text>
<line x1="62.10" y1="333.85" x2="64.60" y2="333.85" stroke="#111" stroke-width="0.99"/>
<text transform="translate(58.50 333.85)" font-size="6.3" text-anchor="end" dy="2.26">10000</text>
<line x1="62.10" y1="322.40" x2="64.60" y2="322.40" stroke="#111" stroke-width="0.99"/>
<text transform="translate(58.50 322.40)" font-size="6.3" text-anchor="end" dy="2.26">20000</text>
<line x1="62.10" y1="310.95" x2="64.60" y2="310.95" stroke="#111" stroke-width="0.99"/>
<text transform="translate(58.50 310.95)" font-size="6.3" text-anchor="end" dy="2.26">30000</text>
<line x1="62.10" y1="299.50" x2="64.60" y2="299.50" stroke="#111" stroke-width="0.99"/>
<text transform="translate(58.50 299.50)" font-size="6.3" text-anchor="end" dy="2.26">40000</text>
<line x1="62.10" y1="288.05" x2="64.60" y2="288.05" stroke="#111" stroke-width="0.99"/>
<text transform="translate(58.50 288.05)" font-size="6.3" text-anchor="end" dy="2.26">50000</text>
<line x1="64.05" y1="345.30" x2="98.70" y2="345.30" stroke="#111" stroke-width="1.1"/>
<line x1="64.60" y1="345.30" x2="64.60" y2="347.80" stroke="#111" stroke-width="0.99"/>
<line x1="80.60" y1="345.30" x2="80.60" y2="347.80" stroke="#111" stroke-width="0.99"/>
<line x1="96.50" y1="345.30" x2="96.50" y2="347.80" stroke="#111" stroke-width="0.99"/>
<text transform="translate(88.40 328.24)" font-size="7.2" text-anchor="middle" font-weight="bold" dy="2.58">*</text>
<text transform="translate(74.00 353.00) rotate(-32.5)" font-size="6.35" text-anchor="end" dy="2.27">Control</text>
<text transform="translate(90.60 353.00) rotate(-32.5)" font-size="6.35" text-anchor="end" dy="2.27">NSC23766</text>
<text transform="translate(151.80 275.00)" font-size="6.3" text-anchor="middle" dy="2.26">IFN-γ</text>
<line x1="137.00" y1="280.40" x2="166.00" y2="280.40" stroke="#111" stroke-width="1.3"/>
<line x1="144.60" y1="332.00" x2="160.00" y2="337.00" stroke="#e8962a" stroke-width="1.25" stroke-linecap="round"/>
<circle cx="144.60" cy="332.00" r="1.30" fill="#e8962a"/>
<circle cx="160.00" cy="337.00" r="1.30" fill="#e8962a"/>
<line x1="144.60" y1="331.50" x2="160.00" y2="336.50" stroke="#e9b83a" stroke-width="1.25" stroke-linecap="round"/>
<circle cx="144.60" cy="331.50" r="1.30" fill="#e9b83a"/>
<circle cx="160.00" cy="336.50" r="1.30" fill="#e9b83a"/>
<line x1="144.60" y1="327.50" x2="160.00" y2="325.00" stroke="#6aa9d8" stroke-width="1.25" stroke-linecap="round"/>
<circle cx="144.60" cy="327.50" r="1.30" fill="#6aa9d8"/>
<circle cx="160.00" cy="325.00" r="1.30" fill="#6aa9d8"/>
<line x1="144.60" y1="325.00" x2="160.00" y2="326.20" stroke="#5b7fc4" stroke-width="1.25" stroke-linecap="round"/>
<circle cx="144.60" cy="325.00" r="1.30" fill="#5b7fc4"/>
<circle cx="160.00" cy="326.20" r="1.30" fill="#5b7fc4"/>
<line x1="144.60" y1="322.50" x2="160.00" y2="328.50" stroke="#9b92c9" stroke-width="1.25" stroke-linecap="round"/>
<circle cx="144.60" cy="322.50" r="1.30" fill="#9b92c9"/>
<circle cx="160.00" cy="328.50" r="1.30" fill="#9b92c9"/>
<line x1="144.60" y1="330.00" x2="160.00" y2="342.40" stroke="#1d2f66" stroke-width="1.25" stroke-linecap="round"/>
<circle cx="144.60" cy="330.00" r="1.30" fill="#1d2f66"/>
<circle cx="160.00" cy="342.40" r="1.30" fill="#1d2f66"/>
<line x1="144.60" y1="292.60" x2="160.00" y2="325.60" stroke="#a8102e" stroke-width="1.25" stroke-linecap="round"/>
<circle cx="144.60" cy="292.60" r="1.30" fill="#a8102e"/>
<circle cx="160.00" cy="325.60" r="1.30" fill="#a8102e"/>
<line x1="144.60" y1="320.70" x2="160.00" y2="331.00" stroke="#2a3f78" stroke-width="1.25" stroke-linecap="round"/>
<circle cx="144.60" cy="320.70" r="1.30" fill="#2a3f78"/>
<circle cx="160.00" cy="331.00" r="1.30" fill="#2a3f78"/>
<line x1="144.60" y1="315.00" x2="144.60" y2="327.50" stroke="#111" stroke-width="0.8"/>
<line x1="143.30" y1="315.00" x2="145.90" y2="315.00" stroke="#111" stroke-width="0.8"/>
<line x1="143.30" y1="327.50" x2="145.90" y2="327.50" stroke="#111" stroke-width="0.8"/>
<line x1="160.00" y1="328.50" x2="160.00" y2="335.50" stroke="#111" stroke-width="0.8"/>
<line x1="158.70" y1="328.50" x2="161.30" y2="328.50" stroke="#111" stroke-width="0.8"/>
<line x1="158.70" y1="335.50" x2="161.30" y2="335.50" stroke="#111" stroke-width="0.8"/>
<line x1="144.60" y1="321.00" x2="160.00" y2="332.00" stroke="#221c44" stroke-width="1.4" stroke-linecap="round"/>
<circle cx="144.60" cy="321.00" r="1.30" fill="#221c44"/>
<circle cx="160.00" cy="332.00" r="1.30" fill="#221c44"/>
<line x1="137.00" y1="285.80" x2="137.00" y2="345.85" stroke="#111" stroke-width="1.1"/>
<line x1="134.50" y1="345.30" x2="137.00" y2="345.30" stroke="#111" stroke-width="0.99"/>
<text transform="translate(130.80 345.30)" font-size="6.3" text-anchor="end" dy="2.26">0</text>
<line x1="134.50" y1="330.74" x2="137.00" y2="330.74" stroke="#111" stroke-width="0.99"/>
<text transform="translate(130.80 330.74)" font-size="6.3" text-anchor="end" dy="2.26">25000</text>
<line x1="134.50" y1="316.18" x2="137.00" y2="316.18" stroke="#111" stroke-width="0.99"/>
<text transform="translate(130.80 316.18)" font-size="6.3" text-anchor="end" dy="2.26">50000</text>
<line x1="134.50" y1="301.62" x2="137.00" y2="301.62" stroke="#111" stroke-width="0.99"/>
<text transform="translate(130.80 301.62)" font-size="6.3" text-anchor="end" dy="2.26">75000</text>
<line x1="134.50" y1="287.06" x2="137.00" y2="287.06" stroke="#111" stroke-width="0.99"/>
<text transform="translate(130.80 287.06)" font-size="6.3" text-anchor="end" dy="2.26">100000</text>
<line x1="136.45" y1="345.30" x2="170.20" y2="345.30" stroke="#111" stroke-width="1.1"/>
<line x1="137.00" y1="345.30" x2="137.00" y2="347.80" stroke="#111" stroke-width="0.99"/>
<line x1="152.60" y1="345.30" x2="152.60" y2="347.80" stroke="#111" stroke-width="0.99"/>
<line x1="168.00" y1="345.30" x2="168.00" y2="347.80" stroke="#111" stroke-width="0.99"/>
<text transform="translate(146.10 353.00) rotate(-32.5)" font-size="6.35" text-anchor="end" dy="2.27">Control</text>
<text transform="translate(162.00 353.00) rotate(-32.5)" font-size="6.35" text-anchor="end" dy="2.27">NSC23766</text>
<text transform="translate(211.80 275.00)" font-size="6.3" text-anchor="middle" dy="2.26">IL-4</text>
<line x1="197.40" y1="280.40" x2="226.00" y2="280.40" stroke="#111" stroke-width="1.3"/>
<line x1="205.00" y1="341.00" x2="221.00" y2="343.80" stroke="#e8962a" stroke-width="1.25" stroke-linecap="round"/>
<circle cx="205.00" cy="341.00" r="1.30" fill="#e8962a"/>
<circle cx="221.00" cy="343.80" r="1.30" fill="#e8962a"/>
<line x1="205.00" y1="339.50" x2="221.00" y2="344.50" stroke="#a8102e" stroke-width="1.25" stroke-linecap="round"/>
<circle cx="205.00" cy="339.50" r="1.30" fill="#a8102e"/>
<circle cx="221.00" cy="344.50" r="1.30" fill="#a8102e"/>
<line x1="205.00" y1="308.80" x2="221.00" y2="332.50" stroke="#c9c08a" stroke-width="1.25" stroke-linecap="round"/>
<circle cx="205.00" cy="308.80" r="1.30" fill="#c9c08a"/>
<circle cx="221.00" cy="332.50" r="1.30" fill="#c9c08a"/>
<line x1="205.00" y1="313.00" x2="221.00" y2="334.00" stroke="#a9a9b4" stroke-width="1.25" stroke-linecap="round"/>
<circle cx="205.00" cy="313.00" r="1.30" fill="#a9a9b4"/>
<circle cx="221.00" cy="334.00" r="1.30" fill="#a9a9b4"/>
<line x1="205.00" y1="317.50" x2="221.00" y2="337.50" stroke="#9b92c9" stroke-width="1.25" stroke-linecap="round"/>
<circle cx="205.00" cy="317.50" r="1.30" fill="#9b92c9"/>
<circle cx="221.00" cy="337.50" r="1.30" fill="#9b92c9"/>
<line x1="205.00" y1="323.50" x2="221.00" y2="340.00" stroke="#7d8fd0" stroke-width="1.25" stroke-linecap="round"/>
<circle cx="205.00" cy="323.50" r="1.30" fill="#7d8fd0"/>
<circle cx="221.00" cy="340.00" r="1.30" fill="#7d8fd0"/>
<line x1="205.00" y1="325.00" x2="221.00" y2="339.40" stroke="#6a5aa8" stroke-width="1.25" stroke-linecap="round"/>
<circle cx="205.00" cy="325.00" r="1.30" fill="#6a5aa8"/>
<circle cx="221.00" cy="339.40" r="1.30" fill="#6a5aa8"/>
<line x1="205.00" y1="295.00" x2="221.00" y2="336.00" stroke="#1d2f66" stroke-width="1.25" stroke-linecap="round"/>
<circle cx="205.00" cy="295.00" r="1.30" fill="#1d2f66"/>
<circle cx="221.00" cy="336.00" r="1.30" fill="#1d2f66"/>
<line x1="205.00" y1="313.80" x2="205.00" y2="328.80" stroke="#111" stroke-width="0.8"/>
<line x1="203.70" y1="313.80" x2="206.30" y2="313.80" stroke="#111" stroke-width="0.8"/>
<line x1="203.70" y1="328.80" x2="206.30" y2="328.80" stroke="#111" stroke-width="0.8"/>
<line x1="221.00" y1="335.00" x2="221.00" y2="341.00" stroke="#111" stroke-width="0.8"/>
<line x1="219.70" y1="335.00" x2="222.30" y2="335.00" stroke="#111" stroke-width="0.8"/>
<line x1="219.70" y1="341.00" x2="222.30" y2="341.00" stroke="#111" stroke-width="0.8"/>
<line x1="205.00" y1="320.80" x2="221.00" y2="338.00" stroke="#221c44" stroke-width="1.4" stroke-linecap="round"/>
<circle cx="205.00" cy="320.80" r="1.30" fill="#221c44"/>
<circle cx="221.00" cy="338.00" r="1.30" fill="#221c44"/>
<line x1="196.20" y1="285.80" x2="196.20" y2="345.85" stroke="#111" stroke-width="1.1"/>
<line x1="193.70" y1="345.30" x2="196.20" y2="345.30" stroke="#111" stroke-width="0.99"/>
<text transform="translate(191.20 345.30)" font-size="6.3" text-anchor="end" dy="2.26">0</text>
<line x1="193.70" y1="333.80" x2="196.20" y2="333.80" stroke="#111" stroke-width="0.99"/>
<text transform="translate(191.20 333.80)" font-size="6.3" text-anchor="end" dy="2.26">100</text>
<line x1="193.70" y1="322.30" x2="196.20" y2="322.30" stroke="#111" stroke-width="0.99"/>
<text transform="translate(191.20 322.30)" font-size="6.3" text-anchor="end" dy="2.26">200</text>
<line x1="193.70" y1="310.80" x2="196.20" y2="310.80" stroke="#111" stroke-width="0.99"/>
<text transform="translate(191.20 310.80)" font-size="6.3" text-anchor="end" dy="2.26">300</text>
<line x1="193.70" y1="299.30" x2="196.20" y2="299.30" stroke="#111" stroke-width="0.99"/>
<text transform="translate(191.20 299.30)" font-size="6.3" text-anchor="end" dy="2.26">400</text>
<line x1="193.70" y1="287.80" x2="196.20" y2="287.80" stroke="#111" stroke-width="0.99"/>
<text transform="translate(191.20 287.80)" font-size="6.3" text-anchor="end" dy="2.26">500</text>
<line x1="195.65" y1="345.30" x2="231.20" y2="345.30" stroke="#111" stroke-width="1.1"/>
<line x1="196.20" y1="345.30" x2="196.20" y2="347.80" stroke="#111" stroke-width="0.99"/>
<line x1="212.60" y1="345.30" x2="212.60" y2="347.80" stroke="#111" stroke-width="0.99"/>
<line x1="229.00" y1="345.30" x2="229.00" y2="347.80" stroke="#111" stroke-width="0.99"/>
<text transform="translate(221.00 325.04)" font-size="7.2" text-anchor="middle" font-weight="bold" dy="2.58">*</text>
<text transform="translate(206.50 353.00) rotate(-32.5)" font-size="6.35" text-anchor="end" dy="2.27">Control</text>
<text transform="translate(223.00 353.00) rotate(-32.5)" font-size="6.35" text-anchor="end" dy="2.27">NSC23766</text>
<text transform="translate(277.50 275.00)" font-size="6.3" text-anchor="middle" dy="2.26">IL-10</text>
<line x1="263.00" y1="280.40" x2="292.00" y2="280.40" stroke="#111" stroke-width="1.3"/>
<line x1="270.00" y1="334.30" x2="285.00" y2="342.50" stroke="#e8962a" stroke-width="1.25" stroke-linecap="round"/>
<circle cx="270.00" cy="334.30" r="1.30" fill="#e8962a"/>
<circle cx="285.00" cy="342.50" r="1.30" fill="#e8962a"/>
<line x1="270.00" y1="325.00" x2="285.00" y2="331.30" stroke="#6aa9d8" stroke-width="1.25" stroke-linecap="round"/>
<circle cx="270.00" cy="325.00" r="1.30" fill="#6aa9d8"/>
<circle cx="285.00" cy="331.30" r="1.30" fill="#6aa9d8"/>
<line x1="270.00" y1="312.50" x2="285.00" y2="320.00" stroke="#a9c878" stroke-width="1.25" stroke-linecap="round"/>
<circle cx="270.00" cy="312.50" r="1.30" fill="#a9c878"/>
<circle cx="285.00" cy="320.00" r="1.30" fill="#a9c878"/>
<line x1="270.00" y1="294.50" x2="285.00" y2="310.80" stroke="#9b92c9" stroke-width="1.25" stroke-linecap="round"/>
<circle cx="270.00" cy="294.50" r="1.30" fill="#9b92c9"/>
<circle cx="285.00" cy="310.80" r="1.30" fill="#9b92c9"/>
<line x1="270.00" y1="308.00" x2="285.00" y2="331.30" stroke="#27566e" stroke-width="1.25" stroke-linecap="round"/>
<circle cx="270.00" cy="308.00" r="1.30" fill="#27566e"/>
<circle cx="285.00" cy="331.30" r="1.30" fill="#27566e"/>
<line x1="270.00" y1="300.80" x2="285.00" y2="336.30" stroke="#1d2f66" stroke-width="1.25" stroke-linecap="round"/>
<circle cx="270.00" cy="300.80" r="1.30" fill="#1d2f66"/>
<circle cx="285.00" cy="336.30" r="1.30" fill="#1d2f66"/>
<line x1="270.00" y1="313.80" x2="285.00" y2="325.00" stroke="#a8102e" stroke-width="1.25" stroke-linecap="round"/>
<circle cx="270.00" cy="313.80" r="1.30" fill="#a8102e"/>
<circle cx="285.00" cy="325.00" r="1.30" fill="#a8102e"/>
<line x1="270.00" y1="312.00" x2="270.00" y2="320.50" stroke="#111" stroke-width="0.8"/>
<line x1="268.70" y1="312.00" x2="271.30" y2="312.00" stroke="#111" stroke-width="0.8"/>
<line x1="268.70" y1="320.50" x2="271.30" y2="320.50" stroke="#111" stroke-width="0.8"/>
<line x1="285.00" y1="321.50" x2="285.00" y2="327.50" stroke="#111" stroke-width="0.8"/>
<line x1="283.70" y1="321.50" x2="286.30" y2="321.50" stroke="#111" stroke-width="0.8"/>
<line x1="283.70" y1="327.50" x2="286.30" y2="327.50" stroke="#111" stroke-width="0.8"/>
<line x1="270.00" y1="316.30" x2="285.00" y2="324.50" stroke="#221c44" stroke-width="1.4" stroke-linecap="round"/>
<circle cx="270.00" cy="316.30" r="1.30" fill="#221c44"/>
<circle cx="285.00" cy="324.50" r="1.30" fill="#221c44"/>
<line x1="263.00" y1="285.80" x2="263.00" y2="345.85" stroke="#111" stroke-width="1.1"/>
<line x1="260.50" y1="345.30" x2="263.00" y2="345.30" stroke="#111" stroke-width="0.99"/>
<text transform="translate(256.50 345.30)" font-size="6.3" text-anchor="end" dy="2.26">0</text>
<line x1="260.50" y1="326.05" x2="263.00" y2="326.05" stroke="#111" stroke-width="0.99"/>
<text transform="translate(256.50 326.05)" font-size="6.3" text-anchor="end" dy="2.26">1000</text>
<line x1="260.50" y1="306.80" x2="263.00" y2="306.80" stroke="#111" stroke-width="0.99"/>
<text transform="translate(256.50 306.80)" font-size="6.3" text-anchor="end" dy="2.26">2000</text>
<line x1="260.50" y1="287.55" x2="263.00" y2="287.55" stroke="#111" stroke-width="0.99"/>
<text transform="translate(256.50 287.55)" font-size="6.3" text-anchor="end" dy="2.26">3000</text>
<line x1="262.45" y1="345.30" x2="295.20" y2="345.30" stroke="#111" stroke-width="1.1"/>
<line x1="263.00" y1="345.30" x2="263.00" y2="347.80" stroke="#111" stroke-width="0.99"/>
<line x1="278.00" y1="345.30" x2="278.00" y2="347.80" stroke="#111" stroke-width="0.99"/>
<line x1="293.00" y1="345.30" x2="293.00" y2="347.80" stroke="#111" stroke-width="0.99"/>
<text transform="translate(285.00 304.04)" font-size="7.2" text-anchor="middle" font-weight="bold" dy="2.58">*</text>
<text transform="translate(271.50 353.00) rotate(-32.5)" font-size="6.35" text-anchor="end" dy="2.27">Control</text>
<text transform="translate(287.00 353.00) rotate(-32.5)" font-size="6.35" text-anchor="end" dy="2.27">NSC23766</text>
<line x1="292.60" y1="289.30" x2="301.40" y2="289.30" stroke="#1d2f66" stroke-width="1.3"/>
<circle cx="297.00" cy="289.30" r="1.30" fill="#1d2f66"/>
<text transform="translate(303.00 289.50)" font-size="6.5" dy="2.33">Donor 65</text>
<line x1="292.60" y1="297.85" x2="301.40" y2="297.85" stroke="#a8102e" stroke-width="1.3"/>
<circle cx="297.00" cy="297.85" r="1.30" fill="#a8102e"/>
<text transform="translate(303.00 298.05)" font-size="6.5" dy="2.33">Donor 66</text>
<line x1="292.60" y1="306.40" x2="301.40" y2="306.40" stroke="#a9c878" stroke-width="1.3"/>
<circle cx="297.00" cy="306.40" r="1.30" fill="#a9c878"/>
<text transform="translate(303.00 306.60)" font-size="6.5" dy="2.33">Donor 69</text>
<line x1="292.60" y1="314.95" x2="301.40" y2="314.95" stroke="#9b92c9" stroke-width="1.3"/>
<circle cx="297.00" cy="314.95" r="1.30" fill="#9b92c9"/>
<text transform="translate(303.00 315.15)" font-size="6.5" dy="2.33">Donor 70</text>
<line x1="292.60" y1="323.50" x2="301.40" y2="323.50" stroke="#6aa9d8" stroke-width="1.3"/>
<circle cx="297.00" cy="323.50" r="1.30" fill="#6aa9d8"/>
<text transform="translate(303.00 323.70)" font-size="6.5" dy="2.33">Donor 71</text>
<line x1="292.60" y1="332.05" x2="301.40" y2="332.05" stroke="#e8962a" stroke-width="1.3"/>
<circle cx="297.00" cy="332.05" r="1.30" fill="#e8962a"/>
<text transform="translate(303.00 332.25)" font-size="6.5" dy="2.33">Donor 72</text>
<line x1="292.60" y1="340.60" x2="301.40" y2="340.60" stroke="#221c44" stroke-width="1.3"/>
<circle cx="297.00" cy="340.60" r="1.30" fill="#221c44"/>
<text transform="translate(303.00 340.80)" font-size="6.5" dy="2.33">Average</text>
<text transform="translate(230.23 479.50) rotate(-90) scale(0.922 1)" font-size="8.45">Cytokine production</text>
<text transform="translate(240.88 457.70) rotate(-90) scale(1.031 1)" font-size="8.45">(pg/ml)</text>
<text transform="translate(283.30 405.80)" font-size="6.3" text-anchor="middle" dy="2.26">IL-2</text>
<line x1="268.80" y1="411.30" x2="298.00" y2="411.30" stroke="#111" stroke-width="1.3"/>
<line x1="277.00" y1="469.50" x2="293.00" y2="469.50" stroke="#a9c878" stroke-width="1.25" stroke-linecap="round"/>
<circle cx="277.00" cy="469.50" r="1.30" fill="#a9c878"/>
<circle cx="293.00" cy="469.50" r="1.30" fill="#a9c878"/>
<line x1="277.00" y1="463.80" x2="293.00" y2="470.00" stroke="#9b92c9" stroke-width="1.25" stroke-linecap="round"/>
<circle cx="277.00" cy="463.80" r="1.30" fill="#9b92c9"/>
<circle cx="293.00" cy="470.00" r="1.30" fill="#9b92c9"/>
<line x1="277.00" y1="455.00" x2="293.00" y2="470.00" stroke="#27566e" stroke-width="1.25" stroke-linecap="round"/>
<circle cx="277.00" cy="455.00" r="1.30" fill="#27566e"/>
<circle cx="293.00" cy="470.00" r="1.30" fill="#27566e"/>
<line x1="277.00" y1="437.00" x2="293.00" y2="467.50" stroke="#6aa9d8" stroke-width="1.25" stroke-linecap="round"/>
<circle cx="277.00" cy="437.00" r="1.30" fill="#6aa9d8"/>
<circle cx="293.00" cy="467.50" r="1.30" fill="#6aa9d8"/>
<line x1="277.00" y1="438.80" x2="293.00" y2="468.80" stroke="#6a5aa8" stroke-width="1.25" stroke-linecap="round"/>
<circle cx="277.00" cy="438.80" r="1.30" fill="#6a5aa8"/>
<circle cx="293.00" cy="468.80" r="1.30" fill="#6a5aa8"/>
<line x1="277.00" y1="447.50" x2="293.00" y2="467.50" stroke="#1d2f66" stroke-width="1.25" stroke-linecap="round"/>
<circle cx="277.00" cy="447.50" r="1.30" fill="#1d2f66"/>
<circle cx="293.00" cy="467.50" r="1.30" fill="#1d2f66"/>
<line x1="277.00" y1="440.00" x2="293.00" y2="466.30" stroke="#a8102e" stroke-width="1.25" stroke-linecap="round"/>
<circle cx="277.00" cy="440.00" r="1.30" fill="#a8102e"/>
<circle cx="293.00" cy="466.30" r="1.30" fill="#a8102e"/>
<line x1="277.00" y1="424.50" x2="293.00" y2="438.80" stroke="#e9b83a" stroke-width="1.25" stroke-linecap="round"/>
<circle cx="277.00" cy="424.50" r="1.30" fill="#e9b83a"/>
<circle cx="293.00" cy="438.80" r="1.30" fill="#e9b83a"/>
<line x1="277.00" y1="441.30" x2="277.00" y2="455.00" stroke="#111" stroke-width="0.8"/>
<line x1="275.70" y1="441.30" x2="278.30" y2="441.30" stroke="#111" stroke-width="0.8"/>
<line x1="275.70" y1="455.00" x2="278.30" y2="455.00" stroke="#111" stroke-width="0.8"/>
<line x1="293.00" y1="459.50" x2="293.00" y2="470.00" stroke="#111" stroke-width="0.8"/>
<line x1="291.70" y1="459.50" x2="294.30" y2="459.50" stroke="#111" stroke-width="0.8"/>
<line x1="291.70" y1="470.00" x2="294.30" y2="470.00" stroke="#111" stroke-width="0.8"/>
<line x1="277.00" y1="448.80" x2="293.00" y2="465.00" stroke="#221c44" stroke-width="1.4" stroke-linecap="round"/>
<circle cx="277.00" cy="448.80" r="1.30" fill="#221c44"/>
<circle cx="293.00" cy="465.00" r="1.30" fill="#221c44"/>
<line x1="268.80" y1="414.80" x2="268.80" y2="475.55" stroke="#111" stroke-width="1.1"/>
<line x1="266.30" y1="475.00" x2="268.80" y2="475.00" stroke="#111" stroke-width="0.99"/>
<text transform="translate(262.60 475.00)" font-size="6.3" text-anchor="end" dy="2.26">0</text>
<line x1="266.30" y1="463.50" x2="268.80" y2="463.50" stroke="#111" stroke-width="0.99"/>
<text transform="translate(262.60 463.50)" font-size="6.3" text-anchor="end" dy="2.26">7500</text>
<line x1="266.30" y1="452.00" x2="268.80" y2="452.00" stroke="#111" stroke-width="0.99"/>
<text transform="translate(262.60 452.00)" font-size="6.3" text-anchor="end" dy="2.26">15000</text>
<line x1="266.30" y1="440.50" x2="268.80" y2="440.50" stroke="#111" stroke-width="0.99"/>
<text transform="translate(262.60 440.50)" font-size="6.3" text-anchor="end" dy="2.26">22500</text>
<line x1="266.30" y1="429.00" x2="268.80" y2="429.00" stroke="#111" stroke-width="0.99"/>
<text transform="translate(262.60 429.00)" font-size="6.3" text-anchor="end" dy="2.26">30000</text>
<line x1="266.30" y1="417.50" x2="268.80" y2="417.50" stroke="#111" stroke-width="0.99"/>
<text transform="translate(262.60 417.50)" font-size="6.3" text-anchor="end" dy="2.26">37500</text>
<line x1="268.25" y1="475.00" x2="302.80" y2="475.00" stroke="#111" stroke-width="1.1"/>
<line x1="268.80" y1="475.00" x2="268.80" y2="477.50" stroke="#111" stroke-width="0.99"/>
<line x1="285.00" y1="475.00" x2="285.00" y2="477.50" stroke="#111" stroke-width="0.99"/>
<line x1="300.60" y1="475.00" x2="300.60" y2="477.50" stroke="#111" stroke-width="0.99"/>
<text transform="translate(293.00 432.24)" font-size="7.2" text-anchor="middle" font-weight="bold" dy="2.58">*</text>
<text transform="translate(278.50 481.70) rotate(-35)" font-size="6.5" text-anchor="end" dy="2.33">Control siRNA</text>
<text transform="translate(295.00 481.70) rotate(-35)" font-size="6.5" text-anchor="end" dy="2.33">PREX1 siRNA-1</text>
<text transform="translate(346.80 405.80)" font-size="6.3" text-anchor="middle" dy="2.26">IFN-γ</text>
<line x1="332.50" y1="411.50" x2="361.30" y2="411.50" stroke="#111" stroke-width="1.3"/>
<line x1="338.80" y1="470.50" x2="355.00" y2="471.30" stroke="#6aa9d8" stroke-width="1.25" stroke-linecap="round"/>
<circle cx="338.80" cy="470.50" r="1.30" fill="#6aa9d8"/>
<circle cx="355.00" cy="471.30" r="1.30" fill="#6aa9d8"/>
<line x1="338.80" y1="467.50" x2="355.00" y2="470.00" stroke="#a9c878" stroke-width="1.25" stroke-linecap="round"/>
<circle cx="338.80" cy="467.50" r="1.30" fill="#a9c878"/>
<circle cx="355.00" cy="470.00" r="1.30" fill="#a9c878"/>
<line x1="338.80" y1="465.00" x2="355.00" y2="457.50" stroke="#6a5aa8" stroke-width="1.25" stroke-linecap="round"/>
<circle cx="338.80" cy="465.00" r="1.30" fill="#6a5aa8"/>
<circle cx="355.00" cy="457.50" r="1.30" fill="#6a5aa8"/>
<line x1="338.80" y1="455.00" x2="355.00" y2="458.00" stroke="#9b92c9" stroke-width="1.25" stroke-linecap="round"/>
<circle cx="338.80" cy="455.00" r="1.30" fill="#9b92c9"/>
<circle cx="355.00" cy="458.00" r="1.30" fill="#9b92c9"/>
<line x1="338.80" y1="451.30" x2="355.00" y2="457.50" stroke="#1d2f66" stroke-width="1.25" stroke-linecap="round"/>
<circle cx="338.80" cy="451.30" r="1.30" fill="#1d2f66"/>
<circle cx="355.00" cy="457.50" r="1.30" fill="#1d2f66"/>
<line x1="338.80" y1="443.80" x2="355.00" y2="448.80" stroke="#a8102e" stroke-width="1.25" stroke-linecap="round"/>
<circle cx="338.80" cy="443.80" r="1.30" fill="#a8102e"/>
<circle cx="355.00" cy="448.80" r="1.30" fill="#a8102e"/>
<line x1="338.80" y1="422.00" x2="355.00" y2="435.50" stroke="#e9b83a" stroke-width="1.25" stroke-linecap="round"/>
<circle cx="338.80" cy="422.00" r="1.30" fill="#e9b83a"/>
<circle cx="355.00" cy="435.50" r="1.30" fill="#e9b83a"/>
<line x1="338.80" y1="447.00" x2="338.80" y2="462.00" stroke="#111" stroke-width="0.8"/>
<line x1="337.50" y1="447.00" x2="340.10" y2="447.00" stroke="#111" stroke-width="0.8"/>
<line x1="337.50" y1="462.00" x2="340.10" y2="462.00" stroke="#111" stroke-width="0.8"/>
<line x1="355.00" y1="452.00" x2="355.00" y2="462.00" stroke="#111" stroke-width="0.8"/>
<line x1="353.70" y1="452.00" x2="356.30" y2="452.00" stroke="#111" stroke-width="0.8"/>
<line x1="353.70" y1="462.00" x2="356.30" y2="462.00" stroke="#111" stroke-width="0.8"/>
<line x1="338.80" y1="454.50" x2="355.00" y2="457.00" stroke="#221c44" stroke-width="1.4" stroke-linecap="round"/>
<circle cx="338.80" cy="454.50" r="1.30" fill="#221c44"/>
<circle cx="355.00" cy="457.00" r="1.30" fill="#221c44"/>
<line x1="332.00" y1="414.80" x2="332.00" y2="475.55" stroke="#111" stroke-width="1.1"/>
<line x1="329.50" y1="475.00" x2="332.00" y2="475.00" stroke="#111" stroke-width="0.99"/>
<text transform="translate(325.30 475.00)" font-size="6.3" text-anchor="end" dy="2.26">0</text>
<line x1="329.50" y1="455.40" x2="332.00" y2="455.40" stroke="#111" stroke-width="0.99"/>
<text transform="translate(325.30 455.40)" font-size="6.3" text-anchor="end" dy="2.26">20000</text>
<line x1="329.50" y1="435.80" x2="332.00" y2="435.80" stroke="#111" stroke-width="0.99"/>
<text transform="translate(325.30 435.80)" font-size="6.3" text-anchor="end" dy="2.26">40000</text>
<line x1="329.50" y1="416.20" x2="332.00" y2="416.20" stroke="#111" stroke-width="0.99"/>
<text transform="translate(325.30 416.20)" font-size="6.3" text-anchor="end" dy="2.26">60000</text>
<line x1="331.45" y1="475.00" x2="364.70" y2="475.00" stroke="#111" stroke-width="1.1"/>
<line x1="332.00" y1="475.00" x2="332.00" y2="477.50" stroke="#111" stroke-width="0.99"/>
<line x1="346.80" y1="475.00" x2="346.80" y2="477.50" stroke="#111" stroke-width="0.99"/>
<line x1="362.50" y1="475.00" x2="362.50" y2="477.50" stroke="#111" stroke-width="0.99"/>
<text transform="translate(340.30 481.70) rotate(-35)" font-size="6.5" text-anchor="end" dy="2.33">Control siRNA</text>
<text transform="translate(357.00 481.70) rotate(-35)" font-size="6.5" text-anchor="end" dy="2.33">PREX1 siRNA-1</text>
<text transform="translate(407.50 405.80)" font-size="6.3" text-anchor="middle" dy="2.26">IL-4</text>
<line x1="393.80" y1="411.50" x2="423.80" y2="411.50" stroke="#111" stroke-width="1.3"/>
<line x1="400.00" y1="460.50" x2="415.00" y2="465.00" stroke="#c9c08a" stroke-width="1.25" stroke-linecap="round"/>
<circle cx="400.00" cy="460.50" r="1.30" fill="#c9c08a"/>
<circle cx="415.00" cy="465.00" r="1.30" fill="#c9c08a"/>
<line x1="400.00" y1="454.50" x2="415.00" y2="462.50" stroke="#6aa9d8" stroke-width="1.25" stroke-linecap="round"/>
<circle cx="400.00" cy="454.50" r="1.30" fill="#6aa9d8"/>
<circle cx="415.00" cy="462.50" r="1.30" fill="#6aa9d8"/>
<line x1="400.00" y1="460.50" x2="415.00" y2="455.00" stroke="#3c63b0" stroke-width="1.25" stroke-linecap="round"/>
<circle cx="400.00" cy="460.50" r="1.30" fill="#3c63b0"/>
<circle cx="415.00" cy="455.00" r="1.30" fill="#3c63b0"/>
<line x1="400.00" y1="428.80" x2="415.00" y2="452.50" stroke="#6a5aa8" stroke-width="1.25" stroke-linecap="round"/>
<circle cx="400.00" cy="428.80" r="1.30" fill="#6a5aa8"/>
<circle cx="415.00" cy="452.50" r="1.30" fill="#6a5aa8"/>
<line x1="400.00" y1="442.50" x2="415.00" y2="451.30" stroke="#1d2f66" stroke-width="1.25" stroke-linecap="round"/>
<circle cx="400.00" cy="442.50" r="1.30" fill="#1d2f66"/>
<circle cx="415.00" cy="451.30" r="1.30" fill="#1d2f66"/>
<line x1="400.00" y1="423.80" x2="415.00" y2="437.00" stroke="#e8962a" stroke-width="1.25" stroke-linecap="round"/>
<circle cx="400.00" cy="423.80" r="1.30" fill="#e8962a"/>
<circle cx="415.00" cy="437.00" r="1.30" fill="#e8962a"/>
<line x1="400.00" y1="423.00" x2="415.00" y2="431.80" stroke="#a8102e" stroke-width="1.25" stroke-linecap="round"/>
<circle cx="400.00" cy="423.00" r="1.30" fill="#a8102e"/>
<circle cx="415.00" cy="431.80" r="1.30" fill="#a8102e"/>
<line x1="400.00" y1="433.80" x2="400.00" y2="448.80" stroke="#111" stroke-width="0.8"/>
<line x1="398.70" y1="433.80" x2="401.30" y2="433.80" stroke="#111" stroke-width="0.8"/>
<line x1="398.70" y1="448.80" x2="401.30" y2="448.80" stroke="#111" stroke-width="0.8"/>
<line x1="415.00" y1="445.00" x2="415.00" y2="455.00" stroke="#111" stroke-width="0.8"/>
<line x1="413.70" y1="445.00" x2="416.30" y2="445.00" stroke="#111" stroke-width="0.8"/>
<line x1="413.70" y1="455.00" x2="416.30" y2="455.00" stroke="#111" stroke-width="0.8"/>
<line x1="400.00" y1="441.30" x2="415.00" y2="450.00" stroke="#221c44" stroke-width="1.4" stroke-linecap="round"/>
<circle cx="400.00" cy="441.30" r="1.30" fill="#221c44"/>
<circle cx="415.00" cy="450.00" r="1.30" fill="#221c44"/>
<line x1="393.00" y1="414.80" x2="393.00" y2="475.55" stroke="#111" stroke-width="1.1"/>
<line x1="390.50" y1="475.00" x2="393.00" y2="475.00" stroke="#111" stroke-width="0.99"/>
<text transform="translate(386.20 475.00)" font-size="6.3" text-anchor="end" dy="2.26">0</text>
<line x1="390.50" y1="455.40" x2="393.00" y2="455.40" stroke="#111" stroke-width="0.99"/>
<text transform="translate(386.20 455.40)" font-size="6.3" text-anchor="end" dy="2.26">75</text>
<line x1="390.50" y1="435.80" x2="393.00" y2="435.80" stroke="#111" stroke-width="0.99"/>
<text transform="translate(386.20 435.80)" font-size="6.3" text-anchor="end" dy="2.26">150</text>
<line x1="390.50" y1="416.20" x2="393.00" y2="416.20" stroke="#111" stroke-width="0.99"/>
<text transform="translate(386.20 416.20)" font-size="6.3" text-anchor="end" dy="2.26">225</text>
<line x1="392.45" y1="475.00" x2="424.70" y2="475.00" stroke="#111" stroke-width="1.1"/>
<line x1="393.00" y1="475.00" x2="393.00" y2="477.50" stroke="#111" stroke-width="0.99"/>
<line x1="407.50" y1="475.00" x2="407.50" y2="477.50" stroke="#111" stroke-width="0.99"/>
<line x1="422.50" y1="475.00" x2="422.50" y2="477.50" stroke="#111" stroke-width="0.99"/>
<text transform="translate(415.00 427.24)" font-size="7.2" text-anchor="middle" font-weight="bold" dy="2.58">*</text>
<text transform="translate(401.50 481.70) rotate(-35)" font-size="6.5" text-anchor="end" dy="2.33">Control siRNA</text>
<text transform="translate(417.00 481.70) rotate(-35)" font-size="6.5" text-anchor="end" dy="2.33">PREX1 siRNA-1</text>
<text transform="translate(468.50 405.80)" font-size="6.3" text-anchor="middle" dy="2.26">IL-10</text>
<line x1="454.70" y1="411.30" x2="483.00" y2="411.30" stroke="#111" stroke-width="1.3"/>
<line x1="460.50" y1="471.00" x2="475.70" y2="473.00" stroke="#9b92c9" stroke-width="1.25" stroke-linecap="round"/>
<circle cx="460.50" cy="471.00" r="1.30" fill="#9b92c9"/>
<circle cx="475.70" cy="473.00" r="1.30" fill="#9b92c9"/>
<line x1="460.50" y1="469.00" x2="475.70" y2="472.40" stroke="#a9a9b4" stroke-width="1.25" stroke-linecap="round"/>
<circle cx="460.50" cy="469.00" r="1.30" fill="#a9a9b4"/>
<circle cx="475.70" cy="472.40" r="1.30" fill="#a9a9b4"/>
<line x1="460.50" y1="464.30" x2="475.70" y2="473.50" stroke="#1d2f66" stroke-width="1.25" stroke-linecap="round"/>
<circle cx="460.50" cy="464.30" r="1.30" fill="#1d2f66"/>
<circle cx="475.70" cy="473.50" r="1.30" fill="#1d2f66"/>
<line x1="460.50" y1="450.00" x2="475.70" y2="457.00" stroke="#6aa9d8" stroke-width="1.25" stroke-linecap="round"/>
<circle cx="460.50" cy="450.00" r="1.30" fill="#6aa9d8"/>
<circle cx="475.70" cy="457.00" r="1.30" fill="#6aa9d8"/>
<line x1="460.50" y1="456.20" x2="475.70" y2="465.00" stroke="#6a5aa8" stroke-width="1.25" stroke-linecap="round"/>
<circle cx="460.50" cy="456.20" r="1.30" fill="#6a5aa8"/>
<circle cx="475.70" cy="465.00" r="1.30" fill="#6a5aa8"/>
<line x1="460.50" y1="455.00" x2="475.70" y2="472.40" stroke="#a8102e" stroke-width="1.25" stroke-linecap="round"/>
<circle cx="460.50" cy="455.00" r="1.30" fill="#a8102e"/>
<circle cx="475.70" cy="472.40" r="1.30" fill="#a8102e"/>
<line x1="460.50" y1="428.00" x2="475.70" y2="441.60" stroke="#e8962a" stroke-width="1.25" stroke-linecap="round"/>
<circle cx="460.50" cy="428.00" r="1.30" fill="#e8962a"/>
<circle cx="475.70" cy="441.60" r="1.30" fill="#e8962a"/>
<line x1="460.50" y1="453.40" x2="460.50" y2="464.30" stroke="#111" stroke-width="0.8"/>
<line x1="459.20" y1="453.40" x2="461.80" y2="453.40" stroke="#111" stroke-width="0.8"/>
<line x1="459.20" y1="464.30" x2="461.80" y2="464.30" stroke="#111" stroke-width="0.8"/>
<line x1="475.70" y1="459.70" x2="475.70" y2="472.40" stroke="#111" stroke-width="0.8"/>
<line x1="474.40" y1="459.70" x2="477.00" y2="459.70" stroke="#111" stroke-width="0.8"/>
<line x1="474.40" y1="472.40" x2="477.00" y2="472.40" stroke="#111" stroke-width="0.8"/>
<line x1="460.50" y1="458.50" x2="475.70" y2="465.40" stroke="#221c44" stroke-width="1.4" stroke-linecap="round"/>
<circle cx="460.50" cy="458.50" r="1.30" fill="#221c44"/>
<circle cx="475.70" cy="465.40" r="1.30" fill="#221c44"/>
<line x1="453.00" y1="414.80" x2="453.00" y2="475.55" stroke="#111" stroke-width="1.1"/>
<line x1="450.50" y1="475.00" x2="453.00" y2="475.00" stroke="#111" stroke-width="0.99"/>
<text transform="translate(447.40 475.00)" font-size="6.3" text-anchor="end" dy="2.26">0</text>
<line x1="450.50" y1="460.07" x2="453.00" y2="460.07" stroke="#111" stroke-width="0.99"/>
<text transform="translate(447.40 460.07)" font-size="6.3" text-anchor="end" dy="2.26">750</text>
<line x1="450.50" y1="445.14" x2="453.00" y2="445.14" stroke="#111" stroke-width="0.99"/>
<text transform="translate(447.40 445.14)" font-size="6.3" text-anchor="end" dy="2.26">1500</text>
<line x1="450.50" y1="430.21" x2="453.00" y2="430.21" stroke="#111" stroke-width="0.99"/>
<text transform="translate(447.40 430.21)" font-size="6.3" text-anchor="end" dy="2.26">2250</text>
<line x1="450.50" y1="415.28" x2="453.00" y2="415.28" stroke="#111" stroke-width="0.99"/>
<text transform="translate(447.40 415.28)" font-size="6.3" text-anchor="end" dy="2.26">3000</text>
<line x1="452.45" y1="475.00" x2="485.20" y2="475.00" stroke="#111" stroke-width="1.1"/>
<line x1="453.00" y1="475.00" x2="453.00" y2="477.50" stroke="#111" stroke-width="0.99"/>
<line x1="468.00" y1="475.00" x2="468.00" y2="477.50" stroke="#111" stroke-width="0.99"/>
<line x1="483.00" y1="475.00" x2="483.00" y2="477.50" stroke="#111" stroke-width="0.99"/>
<text transform="translate(475.70 435.04)" font-size="7.2" text-anchor="middle" font-weight="bold" dy="2.58">*</text>
<text transform="translate(462.00 481.70) rotate(-35)" font-size="6.5" text-anchor="end" dy="2.33">Control siRNA</text>
<text transform="translate(477.70 481.70) rotate(-35)" font-size="6.5" text-anchor="end" dy="2.33">PREX1 siRNA-1</text>
<line x1="479.20" y1="418.40" x2="487.20" y2="418.40" stroke="#27566e" stroke-width="1.3"/>
<circle cx="483.20" cy="418.40" r="1.30" fill="#27566e"/>
<text transform="translate(488.20 418.60)" font-size="5.25" dy="1.88">Donor 91</text>
<line x1="479.20" y1="426.92" x2="487.20" y2="426.92" stroke="#a8102e" stroke-width="1.3"/>
<circle cx="483.20" cy="426.92" r="1.30" fill="#a8102e"/>
<text transform="translate(488.20 427.12)" font-size="5.25" dy="1.88">Donor 92</text>
<line x1="479.20" y1="435.44" x2="487.20" y2="435.44" stroke="#a9a9b4" stroke-width="1.3"/>
<circle cx="483.20" cy="435.44" r="1.30" fill="#a9a9b4"/>
<text transform="translate(488.20 435.64)" font-size="5.25" dy="1.88">Donor 93</text>
<line x1="479.20" y1="443.96" x2="487.20" y2="443.96" stroke="#9b92c9" stroke-width="1.3"/>
<circle cx="483.20" cy="443.96" r="1.30" fill="#9b92c9"/>
<text transform="translate(488.20 444.16)" font-size="5.25" dy="1.88">Donor 94</text>
<line x1="479.20" y1="452.48" x2="487.20" y2="452.48" stroke="#6aa9d8" stroke-width="1.3"/>
<circle cx="483.20" cy="452.48" r="1.30" fill="#6aa9d8"/>
<text transform="translate(488.20 452.68)" font-size="5.25" dy="1.88">Donor 97</text>
<line x1="479.20" y1="461.00" x2="487.20" y2="461.00" stroke="#e8962a" stroke-width="1.3"/>
<circle cx="483.20" cy="461.00" r="1.30" fill="#e8962a"/>
<text transform="translate(488.20 461.20)" font-size="5.25" dy="1.88">Donor 100</text>
<line x1="479.20" y1="469.52" x2="487.20" y2="469.52" stroke="#221c44" stroke-width="1.3"/>
<circle cx="483.20" cy="469.52" r="1.30" fill="#221c44"/>
<text transform="translate(488.20 469.72)" font-size="5.25" dy="1.88">Average</text>
<text transform="translate(230.18 616.10) rotate(-90) scale(0.912 1)" font-size="8.45">Cytokine production</text>
<text transform="translate(240.83 595.10) rotate(-90) scale(0.986 1)" font-size="8.45">(pg/ml)</text>
<text transform="translate(283.30 543.00)" font-size="6.3" text-anchor="middle" dy="2.26">IL-2</text>
<line x1="269.50" y1="547.60" x2="298.00" y2="547.60" stroke="#111" stroke-width="1.3"/>
<line x1="277.00" y1="594.50" x2="292.50" y2="594.50" stroke="#9b92c9" stroke-width="1.25" stroke-linecap="round"/>
<circle cx="277.00" cy="594.50" r="1.30" fill="#9b92c9"/>
<circle cx="292.50" cy="594.50" r="1.30" fill="#9b92c9"/>
<line x1="277.00" y1="600.00" x2="292.50" y2="605.50" stroke="#d9776a" stroke-width="1.25" stroke-linecap="round"/>
<circle cx="277.00" cy="600.00" r="1.30" fill="#d9776a"/>
<circle cx="292.50" cy="605.50" r="1.30" fill="#d9776a"/>
<line x1="277.00" y1="598.00" x2="292.50" y2="605.00" stroke="#a8102e" stroke-width="1.25" stroke-linecap="round"/>
<circle cx="277.00" cy="598.00" r="1.30" fill="#a8102e"/>
<circle cx="292.50" cy="605.00" r="1.30" fill="#a8102e"/>
<line x1="277.00" y1="599.50" x2="292.50" y2="590.80" stroke="#3c63b0" stroke-width="1.25" stroke-linecap="round"/>
<circle cx="277.00" cy="599.50" r="1.30" fill="#3c63b0"/>
<circle cx="292.50" cy="590.80" r="1.30" fill="#3c63b0"/>
<line x1="277.00" y1="586.30" x2="292.50" y2="593.80" stroke="#1d2f66" stroke-width="1.25" stroke-linecap="round"/>
<circle cx="277.00" cy="586.30" r="1.30" fill="#1d2f66"/>
<circle cx="292.50" cy="593.80" r="1.30" fill="#1d2f66"/>
<line x1="277.00" y1="580.00" x2="292.50" y2="590.00" stroke="#6aa9d8" stroke-width="1.25" stroke-linecap="round"/>
<circle cx="277.00" cy="580.00" r="1.30" fill="#6aa9d8"/>
<circle cx="292.50" cy="590.00" r="1.30" fill="#6aa9d8"/>
<line x1="277.00" y1="568.80" x2="292.50" y2="585.50" stroke="#6aaa40" stroke-width="1.25" stroke-linecap="round"/>
<circle cx="277.00" cy="568.80" r="1.30" fill="#6aaa40"/>
<circle cx="292.50" cy="585.50" r="1.30" fill="#6aaa40"/>
<line x1="277.00" y1="561.30" x2="292.50" y2="568.80" stroke="#e9b83a" stroke-width="1.25" stroke-linecap="round"/>
<circle cx="277.00" cy="561.30" r="1.30" fill="#e9b83a"/>
<circle cx="292.50" cy="568.80" r="1.30" fill="#e9b83a"/>
<line x1="277.00" y1="580.00" x2="277.00" y2="591.30" stroke="#111" stroke-width="0.8"/>
<line x1="275.70" y1="580.00" x2="278.30" y2="580.00" stroke="#111" stroke-width="0.8"/>
<line x1="275.70" y1="591.30" x2="278.30" y2="591.30" stroke="#111" stroke-width="0.8"/>
<line x1="292.50" y1="589.50" x2="292.50" y2="599.50" stroke="#111" stroke-width="0.8"/>
<line x1="291.20" y1="589.50" x2="293.80" y2="589.50" stroke="#111" stroke-width="0.8"/>
<line x1="291.20" y1="599.50" x2="293.80" y2="599.50" stroke="#111" stroke-width="0.8"/>
<line x1="277.00" y1="585.00" x2="292.50" y2="593.80" stroke="#221c44" stroke-width="1.4" stroke-linecap="round"/>
<circle cx="277.00" cy="585.00" r="1.30" fill="#221c44"/>
<circle cx="292.50" cy="593.80" r="1.30" fill="#221c44"/>
<line x1="268.80" y1="549.80" x2="268.80" y2="615.05" stroke="#111" stroke-width="1.1"/>
<line x1="266.30" y1="614.50" x2="268.80" y2="614.50" stroke="#111" stroke-width="0.99"/>
<text transform="translate(262.60 614.50)" font-size="6.3" text-anchor="end" dy="2.26">0</text>
<line x1="266.30" y1="594.05" x2="268.80" y2="594.05" stroke="#111" stroke-width="0.99"/>
<text transform="translate(262.60 594.05)" font-size="6.3" text-anchor="end" dy="2.26">10000</text>
<line x1="266.30" y1="573.60" x2="268.80" y2="573.60" stroke="#111" stroke-width="0.99"/>
<text transform="translate(262.60 573.60)" font-size="6.3" text-anchor="end" dy="2.26">20000</text>
<line x1="266.30" y1="553.15" x2="268.80" y2="553.15" stroke="#111" stroke-width="0.99"/>
<text transform="translate(262.60 553.15)" font-size="6.3" text-anchor="end" dy="2.26">30000</text>
<line x1="268.25" y1="614.50" x2="303.20" y2="614.50" stroke="#111" stroke-width="1.1"/>
<line x1="268.80" y1="614.50" x2="268.80" y2="617.00" stroke="#111" stroke-width="0.99"/>
<line x1="285.00" y1="614.50" x2="285.00" y2="617.00" stroke="#111" stroke-width="0.99"/>
<line x1="301.00" y1="614.50" x2="301.00" y2="617.00" stroke="#111" stroke-width="0.99"/>
<text transform="translate(292.50 565.24)" font-size="7.2" text-anchor="middle" font-weight="bold" dy="2.58">*</text>
<text transform="translate(278.50 621.40) rotate(-35)" font-size="6.5" text-anchor="end" dy="2.33">Control siRNA</text>
<text transform="translate(294.50 621.40) rotate(-35)" font-size="6.5" text-anchor="end" dy="2.33">PREX1 siRNA-2</text>
<text transform="translate(346.80 543.00)" font-size="6.3" text-anchor="middle" dy="2.26">IFN-γ</text>
<line x1="332.50" y1="547.60" x2="361.30" y2="547.60" stroke="#111" stroke-width="1.3"/>
<line x1="338.80" y1="610.00" x2="354.50" y2="610.50" stroke="#6aa9d8" stroke-width="1.25" stroke-linecap="round"/>
<circle cx="338.80" cy="610.00" r="1.30" fill="#6aa9d8"/>
<circle cx="354.50" cy="610.50" r="1.30" fill="#6aa9d8"/>
<line x1="338.80" y1="608.00" x2="354.50" y2="609.50" stroke="#9b92c9" stroke-width="1.25" stroke-linecap="round"/>
<circle cx="338.80" cy="608.00" r="1.30" fill="#9b92c9"/>
<circle cx="354.50" cy="609.50" r="1.30" fill="#9b92c9"/>
<line x1="338.80" y1="599.50" x2="354.50" y2="606.30" stroke="#a8102e" stroke-width="1.25" stroke-linecap="round"/>
<circle cx="338.80" cy="599.50" r="1.30" fill="#a8102e"/>
<circle cx="354.50" cy="606.30" r="1.30" fill="#a8102e"/>
<line x1="338.80" y1="590.80" x2="354.50" y2="600.00" stroke="#e8962a" stroke-width="1.25" stroke-linecap="round"/>
<circle cx="338.80" cy="590.80" r="1.30" fill="#e8962a"/>
<circle cx="354.50" cy="600.00" r="1.30" fill="#e8962a"/>
<line x1="338.80" y1="571.30" x2="354.50" y2="588.00" stroke="#6aaa40" stroke-width="1.25" stroke-linecap="round"/>
<circle cx="338.80" cy="571.30" r="1.30" fill="#6aaa40"/>
<circle cx="354.50" cy="588.00" r="1.30" fill="#6aaa40"/>
<line x1="338.80" y1="558.80" x2="354.50" y2="574.50" stroke="#6aa9d8" stroke-width="1.25" stroke-linecap="round"/>
<circle cx="338.80" cy="558.80" r="1.30" fill="#6aa9d8"/>
<circle cx="354.50" cy="574.50" r="1.30" fill="#6aa9d8"/>
<line x1="331.30" y1="549.80" x2="331.30" y2="615.05" stroke="#111" stroke-width="1.1"/>
<line x1="328.80" y1="614.50" x2="331.30" y2="614.50" stroke="#111" stroke-width="0.99"/>
<text transform="translate(325.20 614.50)" font-size="6.3" text-anchor="end" dy="2.26">0</text>
<line x1="328.80" y1="593.90" x2="331.30" y2="593.90" stroke="#111" stroke-width="0.99"/>
<text transform="translate(325.20 593.90)" font-size="6.3" text-anchor="end" dy="2.26">40000</text>
<line x1="328.80" y1="573.30" x2="331.30" y2="573.30" stroke="#111" stroke-width="0.99"/>
<text transform="translate(325.20 573.30)" font-size="6.3" text-anchor="end" dy="2.26">80000</text>
<line x1="328.80" y1="552.70" x2="331.30" y2="552.70" stroke="#111" stroke-width="0.99"/>
<text transform="translate(325.20 552.70)" font-size="6.3" text-anchor="end" dy="2.26">120000</text>
<line x1="330.75" y1="614.50" x2="366.00" y2="614.50" stroke="#111" stroke-width="1.1"/>
<line x1="331.30" y1="614.50" x2="331.30" y2="617.00" stroke="#111" stroke-width="0.99"/>
<line x1="347.50" y1="614.50" x2="347.50" y2="617.00" stroke="#111" stroke-width="0.99"/>
<line x1="363.80" y1="614.50" x2="363.80" y2="617.00" stroke="#111" stroke-width="0.99"/>
<text transform="translate(340.30 621.40) rotate(-35)" font-size="6.5" text-anchor="end" dy="2.33">Control siRNA</text>
<text transform="translate(356.50 621.40) rotate(-35)" font-size="6.5" text-anchor="end" dy="2.33">PREX1 siRNA-2</text>
<line x1="338.80" y1="585.00" x2="338.80" y2="600.00" stroke="#7a1020" stroke-width="0.8"/>
<line x1="337.50" y1="585.00" x2="340.10" y2="585.00" stroke="#7a1020" stroke-width="0.8"/>
<line x1="337.50" y1="600.00" x2="340.10" y2="600.00" stroke="#7a1020" stroke-width="0.8"/>
<line x1="354.50" y1="594.50" x2="354.50" y2="606.30" stroke="#7a1020" stroke-width="0.8"/>
<line x1="353.20" y1="594.50" x2="355.80" y2="594.50" stroke="#7a1020" stroke-width="0.8"/>
<line x1="353.20" y1="606.30" x2="355.80" y2="606.30" stroke="#7a1020" stroke-width="0.8"/>
<line x1="338.80" y1="592.50" x2="354.50" y2="600.50" stroke="#7a1020" stroke-width="1.3" stroke-linecap="round"/>
<circle cx="338.80" cy="592.50" r="1.30" fill="#7a1020"/>
<circle cx="354.50" cy="600.50" r="1.30" fill="#7a1020"/>
<text transform="translate(407.00 543.00)" font-size="6.3" text-anchor="middle" dy="2.26">IL-4</text>
<line x1="393.00" y1="547.60" x2="422.00" y2="547.60" stroke="#111" stroke-width="1.3"/>
<line x1="400.00" y1="605.80" x2="415.50" y2="609.50" stroke="#1d2f66" stroke-width="1.25" stroke-linecap="round"/>
<circle cx="400.00" cy="605.80" r="1.30" fill="#1d2f66"/>
<circle cx="415.50" cy="609.50" r="1.30" fill="#1d2f66"/>
<line x1="400.00" y1="599.50" x2="415.50" y2="607.00" stroke="#a9c878" stroke-width="1.25" stroke-linecap="round"/>
<circle cx="400.00" cy="599.50" r="1.30" fill="#a9c878"/>
<circle cx="415.50" cy="607.00" r="1.30" fill="#a9c878"/>
<line x1="400.00" y1="592.00" x2="415.50" y2="600.50" stroke="#9b92c9" stroke-width="1.25" stroke-linecap="round"/>
<circle cx="400.00" cy="592.00" r="1.30" fill="#9b92c9"/>
<circle cx="415.50" cy="600.50" r="1.30" fill="#9b92c9"/>
<line x1="400.00" y1="590.80" x2="415.50" y2="599.50" stroke="#6a5aa8" stroke-width="1.25" stroke-linecap="round"/>
<circle cx="400.00" cy="590.80" r="1.30" fill="#6a5aa8"/>
<circle cx="415.50" cy="599.50" r="1.30" fill="#6a5aa8"/>
<line x1="400.00" y1="588.00" x2="415.50" y2="596.30" stroke="#27566e" stroke-width="1.25" stroke-linecap="round"/>
<circle cx="400.00" cy="588.00" r="1.30" fill="#27566e"/>
<circle cx="415.50" cy="596.30" r="1.30" fill="#27566e"/>
<line x1="400.00" y1="586.30" x2="415.50" y2="592.50" stroke="#6aaa40" stroke-width="1.25" stroke-linecap="round"/>
<circle cx="400.00" cy="586.30" r="1.30" fill="#6aaa40"/>
<circle cx="415.50" cy="592.50" r="1.30" fill="#6aaa40"/>
<line x1="400.00" y1="583.80" x2="415.50" y2="586.80" stroke="#e8962a" stroke-width="1.25" stroke-linecap="round"/>
<circle cx="400.00" cy="583.80" r="1.30" fill="#e8962a"/>
<circle cx="415.50" cy="586.80" r="1.30" fill="#e8962a"/>
<line x1="400.00" y1="562.50" x2="415.50" y2="581.30" stroke="#6aa9d8" stroke-width="1.25" stroke-linecap="round"/>
<circle cx="400.00" cy="562.50" r="1.30" fill="#6aa9d8"/>
<circle cx="415.50" cy="581.30" r="1.30" fill="#6aa9d8"/>
<line x1="400.00" y1="585.50" x2="400.00" y2="592.00" stroke="#111" stroke-width="0.8"/>
<line x1="398.70" y1="585.50" x2="401.30" y2="585.50" stroke="#111" stroke-width="0.8"/>
<line x1="398.70" y1="592.00" x2="401.30" y2="592.00" stroke="#111" stroke-width="0.8"/>
<line x1="415.50" y1="594.00" x2="415.50" y2="601.00" stroke="#111" stroke-width="0.8"/>
<line x1="414.20" y1="594.00" x2="416.80" y2="594.00" stroke="#111" stroke-width="0.8"/>
<line x1="414.20" y1="601.00" x2="416.80" y2="601.00" stroke="#111" stroke-width="0.8"/>
<line x1="400.00" y1="588.80" x2="415.50" y2="597.50" stroke="#221c44" stroke-width="1.4" stroke-linecap="round"/>
<circle cx="400.00" cy="588.80" r="1.30" fill="#221c44"/>
<circle cx="415.50" cy="597.50" r="1.30" fill="#221c44"/>
<line x1="392.50" y1="549.80" x2="392.50" y2="615.05" stroke="#111" stroke-width="1.1"/>
<line x1="390.00" y1="614.50" x2="392.50" y2="614.50" stroke="#111" stroke-width="0.99"/>
<text transform="translate(386.20 614.50)" font-size="6.3" text-anchor="end" dy="2.26">0</text>
<line x1="390.00" y1="594.30" x2="392.50" y2="594.30" stroke="#111" stroke-width="0.99"/>
<text transform="translate(386.20 594.30)" font-size="6.3" text-anchor="end" dy="2.26">100</text>
<line x1="390.00" y1="574.10" x2="392.50" y2="574.10" stroke="#111" stroke-width="0.99"/>
<text transform="translate(386.20 574.10)" font-size="6.3" text-anchor="end" dy="2.26">200</text>
<line x1="390.00" y1="553.90" x2="392.50" y2="553.90" stroke="#111" stroke-width="0.99"/>
<text transform="translate(386.20 553.90)" font-size="6.3" text-anchor="end" dy="2.26">300</text>
<line x1="391.95" y1="614.50" x2="426.00" y2="614.50" stroke="#111" stroke-width="1.1"/>
<line x1="392.50" y1="614.50" x2="392.50" y2="617.00" stroke="#111" stroke-width="0.99"/>
<line x1="408.00" y1="614.50" x2="408.00" y2="617.00" stroke="#111" stroke-width="0.99"/>
<line x1="423.80" y1="614.50" x2="423.80" y2="617.00" stroke="#111" stroke-width="0.99"/>
<text transform="translate(415.50 571.44)" font-size="7.2" text-anchor="middle" font-weight="bold" dy="2.58">*</text>
<text transform="translate(401.50 621.40) rotate(-35)" font-size="6.5" text-anchor="end" dy="2.33">Control siRNA</text>
<text transform="translate(417.50 621.40) rotate(-35)" font-size="6.5" text-anchor="end" dy="2.33">PREX1 siRNA-2</text>
<text transform="translate(467.00 543.00)" font-size="6.3" text-anchor="middle" dy="2.26">IL-10</text>
<line x1="453.50" y1="547.70" x2="482.00" y2="547.70" stroke="#111" stroke-width="1.3"/>
<line x1="460.00" y1="611.20" x2="475.70" y2="610.00" stroke="#c9c08a" stroke-width="1.25" stroke-linecap="round"/>
<circle cx="460.00" cy="611.20" r="1.30" fill="#c9c08a"/>
<circle cx="475.70" cy="610.00" r="1.30" fill="#c9c08a"/>
<line x1="460.00" y1="605.40" x2="475.70" y2="609.00" stroke="#1d2f66" stroke-width="1.25" stroke-linecap="round"/>
<circle cx="460.00" cy="605.40" r="1.30" fill="#1d2f66"/>
<circle cx="475.70" cy="609.00" r="1.30" fill="#1d2f66"/>
<line x1="460.00" y1="587.00" x2="475.70" y2="607.70" stroke="#e9a9a0" stroke-width="1.25" stroke-linecap="round"/>
<circle cx="460.00" cy="587.00" r="1.30" fill="#e9a9a0"/>
<circle cx="475.70" cy="607.70" r="1.30" fill="#e9a9a0"/>
<line x1="460.00" y1="589.30" x2="475.70" y2="609.00" stroke="#e8962a" stroke-width="1.25" stroke-linecap="round"/>
<circle cx="460.00" cy="589.30" r="1.30" fill="#e8962a"/>
<circle cx="475.70" cy="609.00" r="1.30" fill="#e8962a"/>
<line x1="460.00" y1="583.50" x2="475.70" y2="608.40" stroke="#a8102e" stroke-width="1.25" stroke-linecap="round"/>
<circle cx="460.00" cy="583.50" r="1.30" fill="#a8102e"/>
<circle cx="475.70" cy="608.40" r="1.30" fill="#a8102e"/>
<line x1="460.00" y1="576.60" x2="475.70" y2="573.00" stroke="#6aa9d8" stroke-width="1.25" stroke-linecap="round"/>
<circle cx="460.00" cy="576.60" r="1.30" fill="#6aa9d8"/>
<circle cx="475.70" cy="573.00" r="1.30" fill="#6aa9d8"/>
<line x1="460.00" y1="569.60" x2="475.70" y2="588.80" stroke="#9b92c9" stroke-width="1.25" stroke-linecap="round"/>
<circle cx="460.00" cy="569.60" r="1.30" fill="#9b92c9"/>
<circle cx="475.70" cy="588.80" r="1.30" fill="#9b92c9"/>
<line x1="460.00" y1="565.50" x2="475.70" y2="574.30" stroke="#6aaa40" stroke-width="1.25" stroke-linecap="round"/>
<circle cx="460.00" cy="565.50" r="1.30" fill="#6aaa40"/>
<circle cx="475.70" cy="574.30" r="1.30" fill="#6aaa40"/>
<line x1="460.00" y1="579.60" x2="460.00" y2="593.40" stroke="#111" stroke-width="0.8"/>
<line x1="458.70" y1="579.60" x2="461.30" y2="579.60" stroke="#111" stroke-width="0.8"/>
<line x1="458.70" y1="593.40" x2="461.30" y2="593.40" stroke="#111" stroke-width="0.8"/>
<line x1="475.70" y1="588.80" x2="475.70" y2="602.00" stroke="#111" stroke-width="0.8"/>
<line x1="474.40" y1="588.80" x2="477.00" y2="588.80" stroke="#111" stroke-width="0.8"/>
<line x1="474.40" y1="602.00" x2="477.00" y2="602.00" stroke="#111" stroke-width="0.8"/>
<line x1="460.00" y1="585.80" x2="475.70" y2="595.70" stroke="#221c44" stroke-width="1.4" stroke-linecap="round"/>
<circle cx="460.00" cy="585.80" r="1.30" fill="#221c44"/>
<circle cx="475.70" cy="595.70" r="1.30" fill="#221c44"/>
<line x1="452.60" y1="549.80" x2="452.60" y2="615.05" stroke="#111" stroke-width="1.1"/>
<line x1="450.10" y1="614.50" x2="452.60" y2="614.50" stroke="#111" stroke-width="0.99"/>
<text transform="translate(447.20 614.50)" font-size="6.3" text-anchor="end" dy="2.26">0</text>
<line x1="450.10" y1="594.57" x2="452.60" y2="594.57" stroke="#111" stroke-width="0.99"/>
<text transform="translate(447.20 594.57)" font-size="6.3" text-anchor="end" dy="2.26">2500</text>
<line x1="450.10" y1="574.64" x2="452.60" y2="574.64" stroke="#111" stroke-width="0.99"/>
<text transform="translate(447.20 574.64)" font-size="6.3" text-anchor="end" dy="2.26">5000</text>
<line x1="450.10" y1="554.71" x2="452.60" y2="554.71" stroke="#111" stroke-width="0.99"/>
<text transform="translate(447.20 554.71)" font-size="6.3" text-anchor="end" dy="2.26">7500</text>
<line x1="452.05" y1="614.50" x2="485.20" y2="614.50" stroke="#111" stroke-width="1.1"/>
<line x1="452.60" y1="614.50" x2="452.60" y2="617.00" stroke="#111" stroke-width="0.99"/>
<line x1="468.00" y1="614.50" x2="468.00" y2="617.00" stroke="#111" stroke-width="0.99"/>
<line x1="483.00" y1="614.50" x2="483.00" y2="617.00" stroke="#111" stroke-width="0.99"/>
<text transform="translate(475.70 568.74)" font-size="7.2" text-anchor="middle" font-weight="bold" dy="2.58">*</text>
<text transform="translate(461.50 621.40) rotate(-35)" font-size="6.5" text-anchor="end" dy="2.33">Control siRNA</text>
<text transform="translate(477.70 621.40) rotate(-35)" font-size="6.5" text-anchor="end" dy="2.33">PREX1 siRNA-2</text>
<line x1="479.20" y1="554.60" x2="487.00" y2="554.60" stroke="#1d2f66" stroke-width="1.3"/>
<circle cx="483.10" cy="554.60" r="1.30" fill="#1d2f66"/>
<text transform="translate(488.00 554.80)" font-size="5.25" dy="1.88">Donor 130</text>
<line x1="479.20" y1="562.58" x2="487.00" y2="562.58" stroke="#a8102e" stroke-width="1.3"/>
<circle cx="483.10" cy="562.58" r="1.30" fill="#a8102e"/>
<text transform="translate(488.00 562.78)" font-size="5.25" dy="1.88">Donor 131</text>
<line x1="479.20" y1="570.56" x2="487.00" y2="570.56" stroke="#e9a9a0" stroke-width="1.3"/>
<circle cx="483.10" cy="570.56" r="1.30" fill="#e9a9a0"/>
<text transform="translate(488.00 570.76)" font-size="5.25" dy="1.88">Donor 133</text>
<line x1="479.20" y1="578.54" x2="487.00" y2="578.54" stroke="#9b92c9" stroke-width="1.3"/>
<circle cx="483.10" cy="578.54" r="1.30" fill="#9b92c9"/>
<text transform="translate(488.00 578.74)" font-size="5.25" dy="1.88">Donor 134</text>
<line x1="479.20" y1="586.52" x2="487.00" y2="586.52" stroke="#6aa9d8" stroke-width="1.3"/>
<circle cx="483.10" cy="586.52" r="1.30" fill="#6aa9d8"/>
<text transform="translate(488.00 586.72)" font-size="5.25" dy="1.88">Donor 152</text>
<line x1="479.20" y1="594.50" x2="487.00" y2="594.50" stroke="#e8962a" stroke-width="1.3"/>
<circle cx="483.10" cy="594.50" r="1.30" fill="#e8962a"/>
<text transform="translate(488.00 594.70)" font-size="5.25" dy="1.88">Donor 153</text>
<line x1="479.20" y1="602.48" x2="487.00" y2="602.48" stroke="#6aaa40" stroke-width="1.3"/>
<circle cx="483.10" cy="602.48" r="1.30" fill="#6aaa40"/>
<text transform="translate(488.00 602.68)" font-size="5.25" dy="1.88">Donor 154</text>
<line x1="479.20" y1="610.46" x2="487.00" y2="610.46" stroke="#221c44" stroke-width="1.3"/>
<circle cx="483.10" cy="610.46" r="1.30" fill="#221c44"/>
<text transform="translate(488.00 610.66)" font-size="5.25" dy="1.88">Average</text>
<text transform="translate(54.60 427.60) rotate(-34)" font-size="5.5" dy="1.97">Control siRNA</text>
<text transform="translate(71.00 427.80) rotate(-33)" font-size="5.3" dy="1.90">PREX1 siRNA-1</text>
<text transform="translate(46.30 435.00)" font-size="5.4" text-anchor="end" dy="1.93">PREX1</text>
<text transform="translate(46.30 444.60)" font-size="5.4" text-anchor="end" dy="1.93">Actin</text>
<clipPath id="cH1"><rect x="49.80" y="430.70" width="33.40" height="7.50"/></clipPath>
<rect x="49.80" y="430.70" width="33.40" height="7.50" fill="#a5a5a5"/>
<g clip-path="url(#cH1)">
<ellipse cx="58.50" cy="434.40" rx="6.50" ry="1.30" fill="#000" opacity="0.85" filter="url(#b1)"/>
<ellipse cx="74.50" cy="434.60" rx="5.50" ry="1.10" fill="#000" opacity="0.3" filter="url(#b1)"/>
</g>
<clipPath id="cH2"><rect x="49.80" y="440.80" width="33.40" height="7.40"/></clipPath>
<rect x="49.80" y="440.80" width="33.40" height="7.40" fill="#acacac"/>
<g clip-path="url(#cH2)">
<ellipse cx="58.50" cy="444.60" rx="6.50" ry="1.20" fill="#000" opacity="0.55" filter="url(#b1)"/>
<ellipse cx="74.50" cy="444.60" rx="6.00" ry="1.30" fill="#000" opacity="0.6" filter="url(#b1)"/>
</g>
<text transform="translate(66.20 458.80)" font-size="5.4" text-anchor="middle" dy="1.93">Control</text>
<text transform="translate(66.20 465.00)" font-size="5.4" text-anchor="middle" dy="1.93">siRNA</text>
<text transform="translate(103.80 458.80)" font-size="5.4" text-anchor="middle" dy="1.93">PREX1</text>
<text transform="translate(103.80 465.00)" font-size="5.4" text-anchor="middle" dy="1.93">siRNA-1</text>
<line x1="53.80" y1="469.30" x2="83.80" y2="469.30" stroke="#111" stroke-width="1"/>
<line x1="86.30" y1="469.30" x2="120.30" y2="469.30" stroke="#111" stroke-width="1"/>
<text transform="translate(51.30 473.30)" font-size="5.4" text-anchor="end" dy="1.93">CD3+CD28 (min.):</text>
<text transform="translate(62.50 473.30)" font-size="5.4" text-anchor="middle" dy="1.93">0</text>
<text transform="translate(79.50 473.30)" font-size="5.4" text-anchor="middle" dy="1.93">5</text>
<text transform="translate(96.00 473.30)" font-size="5.4" text-anchor="middle" dy="1.93">0</text>
<text transform="translate(112.50 473.30)" font-size="5.4" text-anchor="middle" dy="1.93">5</text>
<text transform="translate(51.30 483.80)" font-size="5.4" text-anchor="end" dy="1.93">Activated Rac1</text>
<text transform="translate(51.30 495.60)" font-size="5.4" text-anchor="end" dy="1.93">Total Rac1</text>
<clipPath id="cH3"><rect x="53.80" y="477.80" width="67.00" height="12.20"/></clipPath>
<rect x="53.80" y="477.80" width="67.00" height="12.20" fill="#dadada"/>
<g clip-path="url(#cH3)">
<ellipse cx="62.00" cy="484.00" rx="6.00" ry="1.50" fill="#000" opacity="0.45" filter="url(#b1)"/>
<ellipse cx="79.00" cy="483.00" rx="6.00" ry="1.60" fill="#000" opacity="0.7" filter="url(#b1)"/>
<ellipse cx="95.00" cy="484.00" rx="5.00" ry="1.30" fill="#000" opacity="0.3" filter="url(#b1)"/>
<ellipse cx="111.00" cy="484.20" rx="5.00" ry="1.10" fill="#000" opacity="0.14" filter="url(#b1)"/>
</g>
<clipPath id="cH4"><rect x="53.80" y="492.00" width="67.00" height="9.20"/></clipPath>
<rect x="53.80" y="492.00" width="67.00" height="9.20" fill="#b4b4b4"/>
<g clip-path="url(#cH4)">
<ellipse cx="62.50" cy="496.80" rx="7.00" ry="2.00" fill="#000" opacity="0.9" filter="url(#b1)"/>
<ellipse cx="79.00" cy="496.80" rx="6.50" ry="1.80" fill="#000" opacity="0.85" filter="url(#b1)"/>
<ellipse cx="96.00" cy="496.80" rx="7.00" ry="2.00" fill="#000" opacity="0.9" filter="url(#b1)"/>
<ellipse cx="112.00" cy="496.80" rx="6.50" ry="1.90" fill="#000" opacity="0.88" filter="url(#b1)"/>
</g>
<line x1="179.80" y1="454.40" x2="179.80" y2="456.20" stroke="#4f0c1a" stroke-width="1.25"/>
<line x1="178.70" y1="454.60" x2="180.90" y2="454.60" stroke="#4f0c1a" stroke-width="0.9"/>
<rect x="177.00" y="455.20" width="5.60" height="20.00" fill="#b5112f"/>
<line x1="185.45" y1="454.40" x2="185.45" y2="456.20" stroke="#172842" stroke-width="1.25"/>
<line x1="184.35" y1="454.60" x2="186.55" y2="454.60" stroke="#172842" stroke-width="0.9"/>
<rect x="182.60" y="455.20" width="5.70" height="20.00" fill="#2d4f82"/>
<line x1="201.30" y1="415.80" x2="201.30" y2="421.80" stroke="#4f0c1a" stroke-width="1.25"/>
<line x1="200.20" y1="416.00" x2="202.40" y2="416.00" stroke="#4f0c1a" stroke-width="0.9"/>
<rect x="198.30" y="420.80" width="6.00" height="54.40" fill="#b5112f"/>
<line x1="207.15" y1="455.00" x2="207.15" y2="459.30" stroke="#172842" stroke-width="1.25"/>
<line x1="206.05" y1="455.20" x2="208.25" y2="455.20" stroke="#172842" stroke-width="0.9"/>
<rect x="204.30" y="458.30" width="5.70" height="16.90" fill="#2d4f82"/>
<line x1="171.30" y1="412.30" x2="171.30" y2="475.75" stroke="#111" stroke-width="1.1"/>
<line x1="168.80" y1="475.20" x2="171.30" y2="475.20" stroke="#111" stroke-width="0.99"/>
<text transform="translate(167.00 475.20)" font-size="6.5" text-anchor="end" dy="2.33">0</text>
<line x1="168.80" y1="455.20" x2="171.30" y2="455.20" stroke="#111" stroke-width="0.99"/>
<text transform="translate(167.00 455.20)" font-size="6.5" text-anchor="end" dy="2.33">1</text>
<line x1="168.80" y1="435.20" x2="171.30" y2="435.20" stroke="#111" stroke-width="0.99"/>
<text transform="translate(167.00 435.20)" font-size="6.5" text-anchor="end" dy="2.33">2</text>
<line x1="168.80" y1="415.20" x2="171.30" y2="415.20" stroke="#111" stroke-width="0.99"/>
<text transform="translate(167.00 415.20)" font-size="6.5" text-anchor="end" dy="2.33">3</text>
<line x1="170.75" y1="475.20" x2="216.30" y2="475.20" stroke="#111" stroke-width="1.1"/>
<line x1="171.30" y1="475.20" x2="171.30" y2="477.70" stroke="#111" stroke-width="0.99"/>
<line x1="193.30" y1="475.20" x2="193.30" y2="477.70" stroke="#111" stroke-width="0.99"/>
<line x1="215.00" y1="475.20" x2="215.00" y2="477.70" stroke="#111" stroke-width="0.99"/>
<text transform="translate(134.10 467.40) rotate(-90) scale(0.846 1)" font-size="8.80">Fold increase</text>
<text transform="translate(144.45 463.20) rotate(-90) scale(0.829 1)" font-size="8.80">in activated</text>
<text transform="translate(154.15 475.80) rotate(-90) scale(0.859 1)" font-size="8.80">Rac1 over unstim.</text>
<path d="M200.60 412.80 V411.30 H208.20 V412.80" fill="none" stroke="#111" stroke-width="0.9"/>
<text transform="translate(204.40 408.04)" font-size="7.2" text-anchor="middle" font-weight="bold" dy="2.58">*</text>
<text transform="translate(171.00 483.30)" font-size="6.5" text-anchor="end" dy="2.33">CD3+CD28:</text>
<text transform="translate(182.60 483.30)" font-size="6.5" text-anchor="middle" dy="2.33">-</text>
<text transform="translate(207.30 483.30)" font-size="6.5" text-anchor="middle" dy="2.33">+</text>
<rect x="170.00" y="491.80" width="4.60" height="5.20" fill="#b5112f"/>
<text transform="translate(177.20 494.60)" font-size="5.3" dy="1.90">Control siRNA</text>
<rect x="170.00" y="500.50" width="4.60" height="5.30" fill="#2d4f82"/>
<text transform="translate(177.20 503.30)" font-size="5.3" dy="1.90">PREX1 siRNA-1</text>
<text transform="translate(54.20 566.80) rotate(-36)" font-size="5.2" dy="1.86">Control siRNA</text>
<text transform="translate(68.00 566.80) rotate(-34)" font-size="5.4" dy="1.93">PREX1 siRNA-2</text>
<text transform="translate(44.80 574.60)" font-size="5.4" text-anchor="end" dy="1.93">PREX1</text>
<text transform="translate(44.80 584.60)" font-size="5.4" text-anchor="end" dy="1.93">Actin</text>
<clipPath id="cK1"><rect x="46.90" y="569.60" width="15.00" height="8.10"/></clipPath>
<rect x="46.90" y="569.60" width="15.00" height="8.10" fill="#949494"/>
<g clip-path="url(#cK1)">
<ellipse cx="54.50" cy="573.60" rx="6.00" ry="1.20" fill="#000" opacity="0.8" filter="url(#b1)"/>
</g>
<clipPath id="cK2"><rect x="63.40" y="569.60" width="17.00" height="8.10"/></clipPath>
<rect x="63.40" y="569.60" width="17.00" height="8.10" fill="#9c9c9c"/>
<g clip-path="url(#cK2)">
<ellipse cx="72.00" cy="573.80" rx="6.00" ry="0.80" fill="#000" opacity="0.1" filter="url(#b1)"/>
</g>
<clipPath id="cK3"><rect x="46.90" y="580.20" width="15.00" height="8.00"/></clipPath>
<rect x="46.90" y="580.20" width="15.00" height="8.00" fill="#9a9a9a"/>
<g clip-path="url(#cK3)">
<ellipse cx="54.50" cy="584.30" rx="6.50" ry="1.10" fill="#000" opacity="0.7" filter="url(#b1)"/>
</g>
<clipPath id="cK4"><rect x="63.40" y="580.20" width="17.00" height="8.00"/></clipPath>
<rect x="63.40" y="580.20" width="17.00" height="8.00" fill="#8c8c8c"/>
<g clip-path="url(#cK4)">
<ellipse cx="72.00" cy="584.30" rx="7.00" ry="1.30" fill="#000" opacity="0.85" filter="url(#b1)"/>
</g>
<text transform="translate(66.30 598.00)" font-size="5.4" text-anchor="middle" dy="1.93">Control</text>
<text transform="translate(66.30 605.00)" font-size="5.4" text-anchor="middle" dy="1.93">siRNA</text>
<text transform="translate(103.30 598.00)" font-size="5.4" text-anchor="middle" dy="1.93">PREX-1</text>
<text transform="translate(103.30 605.00)" font-size="5.4" text-anchor="middle" dy="1.93">siRNA-2</text>
<line x1="53.80" y1="609.30" x2="83.30" y2="609.30" stroke="#111" stroke-width="1"/>
<line x1="86.30" y1="609.30" x2="119.50" y2="609.30" stroke="#111" stroke-width="1"/>
<text transform="translate(51.30 613.40)" font-size="5.4" text-anchor="end" dy="1.93">CD3+CD28 (min.):</text>
<text transform="translate(60.00 613.40)" font-size="5.4" text-anchor="middle" dy="1.93">0</text>
<text transform="translate(77.00 613.40)" font-size="5.4" text-anchor="middle" dy="1.93">5</text>
<text transform="translate(93.00 613.40)" font-size="5.4" text-anchor="middle" dy="1.93">0</text>
<text transform="translate(110.00 613.40)" font-size="5.4" text-anchor="middle" dy="1.93">5</text>
<text transform="translate(51.30 623.60)" font-size="5.4" text-anchor="end" dy="1.93">Activated Rac1</text>
<text transform="translate(51.30 636.00)" font-size="5.4" text-anchor="end" dy="1.93">Total Rac1</text>
<clipPath id="cK5"><rect x="53.80" y="617.20" width="65.70" height="12.40"/></clipPath>
<rect x="53.80" y="617.20" width="65.70" height="12.40" fill="#e2e2e2"/>
<g clip-path="url(#cK5)">
<ellipse cx="61.00" cy="623.20" rx="5.50" ry="0.90" fill="#000" opacity="0.6" filter="url(#b1)"/>
<ellipse cx="78.00" cy="622.60" rx="6.50" ry="1.50" fill="#000" opacity="0.92" filter="url(#b1)"/>
<ellipse cx="93.00" cy="622.40" rx="5.50" ry="1.00" fill="#000" opacity="0.6" filter="url(#b1)"/>
<ellipse cx="109.50" cy="623.00" rx="6.00" ry="0.90" fill="#000" opacity="0.4" filter="url(#b1)"/>
</g>
<clipPath id="cK6"><rect x="53.80" y="631.40" width="65.70" height="10.10"/></clipPath>
<rect x="53.80" y="631.40" width="65.70" height="10.10" fill="#d2d2d2"/>
<g clip-path="url(#cK6)">
<ellipse cx="61.50" cy="635.60" rx="6.50" ry="1.00" fill="#000" opacity="0.85" filter="url(#b1)"/>
<ellipse cx="78.00" cy="635.80" rx="6.50" ry="1.00" fill="#000" opacity="0.85" filter="url(#b1)"/>
<ellipse cx="94.00" cy="636.00" rx="6.50" ry="1.10" fill="#000" opacity="0.9" filter="url(#b1)"/>
<ellipse cx="110.50" cy="636.80" rx="6.50" ry="1.10" fill="#000" opacity="0.9" filter="url(#b1)"/>
</g>
<rect x="176.30" y="598.30" width="5.70" height="16.30" fill="#b5112f"/>
<line x1="185.00" y1="588.00" x2="185.00" y2="596.00" stroke="#172842" stroke-width="1.25"/>
<line x1="183.90" y1="588.20" x2="186.10" y2="588.20" stroke="#172842" stroke-width="0.9"/>
<rect x="182.00" y="595.00" width="6.00" height="19.60" fill="#2d4f82"/>
<line x1="200.40" y1="563.80" x2="200.40" y2="574.00" stroke="#4f0c1a" stroke-width="1.25"/>
<line x1="199.30" y1="564.00" x2="201.50" y2="564.00" stroke="#4f0c1a" stroke-width="0.9"/>
<rect x="197.50" y="573.00" width="5.80" height="41.60" fill="#b5112f"/>
<line x1="206.30" y1="602.40" x2="206.30" y2="606.00" stroke="#172842" stroke-width="1.25"/>
<line x1="205.20" y1="602.60" x2="207.40" y2="602.60" stroke="#172842" stroke-width="0.9"/>
<rect x="203.30" y="605.00" width="6.00" height="9.60" fill="#2d4f82"/>
<line x1="171.30" y1="554.80" x2="171.30" y2="615.15" stroke="#111" stroke-width="1.1"/>
<line x1="168.80" y1="614.60" x2="171.30" y2="614.60" stroke="#111" stroke-width="0.99"/>
<text transform="translate(166.60 614.60)" font-size="6.5" text-anchor="end" dy="2.33">0</text>
<line x1="168.80" y1="603.19" x2="171.30" y2="603.19" stroke="#111" stroke-width="0.99"/>
<text transform="translate(166.60 603.19)" font-size="6.5" text-anchor="end" dy="2.33">0.7</text>
<line x1="168.80" y1="591.78" x2="171.30" y2="591.78" stroke="#111" stroke-width="0.99"/>
<text transform="translate(166.60 591.78)" font-size="6.5" text-anchor="end" dy="2.33">1.4</text>
<line x1="168.80" y1="580.37" x2="171.30" y2="580.37" stroke="#111" stroke-width="0.99"/>
<text transform="translate(166.60 580.37)" font-size="6.5" text-anchor="end" dy="2.33">2.1</text>
<line x1="168.80" y1="568.96" x2="171.30" y2="568.96" stroke="#111" stroke-width="0.99"/>
<text transform="translate(166.60 568.96)" font-size="6.5" text-anchor="end" dy="2.33">2.8</text>
<line x1="168.80" y1="557.55" x2="171.30" y2="557.55" stroke="#111" stroke-width="0.99"/>
<text transform="translate(166.60 557.55)" font-size="6.5" text-anchor="end" dy="2.33">3.5</text>
<line x1="170.75" y1="614.60" x2="216.30" y2="614.60" stroke="#111" stroke-width="1.1"/>
<line x1="171.30" y1="614.60" x2="171.30" y2="617.10" stroke="#111" stroke-width="0.99"/>
<line x1="193.30" y1="614.60" x2="193.30" y2="617.10" stroke="#111" stroke-width="0.99"/>
<line x1="214.60" y1="614.60" x2="214.60" y2="617.10" stroke="#111" stroke-width="0.99"/>
<text transform="translate(134.10 606.80) rotate(-90) scale(0.846 1)" font-size="8.80">Fold increase</text>
<text transform="translate(144.40 602.90) rotate(-90) scale(0.835 1)" font-size="8.80">in activated</text>
<text transform="translate(154.15 614.90) rotate(-90) scale(0.846 1)" font-size="8.80">Rac1 over unstim.</text>
<path d="M199.50 561.50 V560.00 H208.80 V561.50" fill="none" stroke="#111" stroke-width="0.9"/>
<text transform="translate(204.15 556.44)" font-size="7.2" text-anchor="middle" font-weight="bold" dy="2.58">*</text>
<text transform="translate(170.30 622.60)" font-size="6.5" text-anchor="end" dy="2.33">CD3+CD28:</text>
<text transform="translate(181.80 622.60)" font-size="6.5" text-anchor="middle" dy="2.33">-</text>
<text transform="translate(203.80 622.60)" font-size="6.5" text-anchor="middle" dy="2.33">+</text>
<rect x="167.50" y="630.00" width="4.50" height="5.00" fill="#b5112f"/>
<text transform="translate(175.00 632.60)" font-size="5" dy="1.79">Control siRNA</text>
<rect x="167.50" y="639.30" width="4.50" height="5.00" fill="#2d4f82"/>
<text transform="translate(175.00 641.80)" font-size="5" dy="1.79">PREX1 siRNA-2</text>
</g>
<rect x="0" y="0" width="520" height="1.3" fill="#000"/><rect x="0" y="0" width="1.2" height="659" fill="#000"/><rect x="518.4" y="0" width="1.6" height="659" fill="#000"/><rect x="0" y="657.3" width="520" height="1.7" fill="#000"/>
</svg></body></html>
